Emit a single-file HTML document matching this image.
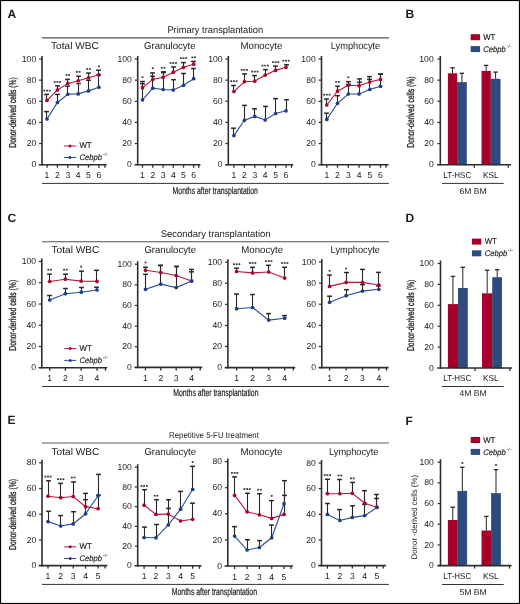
<!DOCTYPE html><html><head><meta charset="utf-8"><style>html,body{margin:0;padding:0;background:#fff;}svg{display:block;filter:blur(0.3px);}text{font-family:"Liberation Sans", sans-serif;fill:#1a1a1a;text-rendering:geometricPrecision;}</style></head><body>
<svg width="520" height="604" viewBox="0 0 520 604">
<rect x="0" y="0" width="520" height="604" fill="#fff"/>
<text x="7.4" y="17.7" font-size="12" font-weight="bold" fill="#000" >A</text>
<text x="405.6" y="17.6" font-size="12" font-weight="bold" fill="#000" >B</text>
<text x="7.4" y="221.8" font-size="12" font-weight="bold" fill="#000" >C</text>
<text x="405.6" y="221.7" font-size="12" font-weight="bold" fill="#000" >D</text>
<text x="7.6" y="424.4" font-size="12" font-weight="bold" fill="#000" >E</text>
<text x="405.6" y="424.6" font-size="12" font-weight="bold" fill="#000" >F</text>
<text x="167.4" y="32.6" font-size="9.7" textLength="95.8" lengthAdjust="spacingAndGlyphs" >Primary transplantation</text>
<line x1="42" y1="37.9" x2="388.9" y2="37.9" stroke="#505050" stroke-width="1.1" />
<text x="160.7" y="236.9" font-size="9.7" textLength="109.9" lengthAdjust="spacingAndGlyphs" >Secondary transplantation</text>
<line x1="42" y1="241.7" x2="388.9" y2="241.7" stroke="#505050" stroke-width="1.1" />
<text x="169.1" y="437.8" font-size="8.5" textLength="89.8" lengthAdjust="spacingAndGlyphs" >Repetitive 5-FU treatment</text>
<line x1="42" y1="443.0" x2="388.9" y2="443.0" stroke="#606060" stroke-width="1.1" />
<text x="51.0" y="49.3" font-size="9.9" textLength="47.8" lengthAdjust="spacingAndGlyphs" >Total WBC</text>
<text x="144.0" y="49.3" font-size="9.9" textLength="51.6" lengthAdjust="spacingAndGlyphs" >Granulocyte</text>
<text x="240.6" y="49.3" font-size="9.9" textLength="41.8" lengthAdjust="spacingAndGlyphs" >Monocyte</text>
<text x="330.8" y="49.3" font-size="9.9" textLength="49.4" lengthAdjust="spacingAndGlyphs" >Lymphocyte</text>
<text x="51.5" y="253.4" font-size="9.9" textLength="47.8" lengthAdjust="spacingAndGlyphs" >Total WBC</text>
<text x="144.4" y="253.4" font-size="9.9" textLength="51.6" lengthAdjust="spacingAndGlyphs" >Granulocyte</text>
<text x="241.3" y="253.4" font-size="9.9" textLength="41.8" lengthAdjust="spacingAndGlyphs" >Monocyte</text>
<text x="330.6" y="253.4" font-size="9.9" textLength="49.4" lengthAdjust="spacingAndGlyphs" >Lymphocyte</text>
<text x="51.5" y="454.5" font-size="9.9" textLength="47.8" lengthAdjust="spacingAndGlyphs" >Total WBC</text>
<text x="144.4" y="454.5" font-size="9.9" textLength="51.6" lengthAdjust="spacingAndGlyphs" >Granulocyte</text>
<text x="240.5" y="454.5" font-size="9.9" textLength="41.8" lengthAdjust="spacingAndGlyphs" >Monocyte</text>
<text x="329.0" y="454.5" font-size="9.9" textLength="49.4" lengthAdjust="spacingAndGlyphs" >Lymphocyte</text>
<line x1="42" y1="183.4" x2="388.9" y2="183.4" stroke="#333" stroke-width="1.0" />
<text x="172.6" y="193.8" font-size="10.0" textLength="85.2" lengthAdjust="spacingAndGlyphs" stroke="#1a1a1a" stroke-width="0.2">Months after transplantation</text>
<line x1="42" y1="386.5" x2="388.9" y2="386.5" stroke="#333" stroke-width="1.0" />
<text x="173.3" y="396.4" font-size="10.0" textLength="85.2" lengthAdjust="spacingAndGlyphs" stroke="#1a1a1a" stroke-width="0.2">Months after transplantation</text>
<line x1="42" y1="584.4" x2="388.9" y2="584.4" stroke="#333" stroke-width="1.0" />
<text x="171.8" y="594.8" font-size="10.0" textLength="85.2" lengthAdjust="spacingAndGlyphs" stroke="#1a1a1a" stroke-width="0.2">Months after transplantation</text>
<text transform="translate(15.9,112.4) rotate(-90)" x="0" y="0" font-size="10" text-anchor="middle" textLength="70.5" lengthAdjust="spacingAndGlyphs" stroke="#1a1a1a" stroke-width="0.3">Donor-derived cells (%)</text>
<text transform="translate(15.9,315.3) rotate(-90)" x="0" y="0" font-size="10" text-anchor="middle" textLength="70.9" lengthAdjust="spacingAndGlyphs" stroke="#1a1a1a" stroke-width="0.3">Donor-derived cells (%)</text>
<text transform="translate(15.9,514.5) rotate(-90)" x="0" y="0" font-size="10" text-anchor="middle" textLength="70.9" lengthAdjust="spacingAndGlyphs" stroke="#1a1a1a" stroke-width="0.3">Donor-derived cells (%)</text>
<text transform="translate(414.0,112.1) rotate(-90)" x="0" y="0" font-size="10" text-anchor="middle" textLength="71.4" lengthAdjust="spacingAndGlyphs" stroke="#1a1a1a" stroke-width="0.3">Donor-derived cells (%)</text>
<text transform="translate(414.0,315.4) rotate(-90)" x="0" y="0" font-size="10" text-anchor="middle" textLength="71.4" lengthAdjust="spacingAndGlyphs" stroke="#1a1a1a" stroke-width="0.3">Donor-derived cells (%)</text>
<text transform="translate(417.2,517.2) rotate(-90)" x="0" y="0" font-size="8.2" text-anchor="middle" textLength="84.5" lengthAdjust="spacingAndGlyphs">Donor -derived cells (%)</text>
<line x1="42" y1="56" x2="42" y2="165.5" stroke="#2e2e2e" stroke-width="1.6" />
<line x1="39.1" y1="59.0" x2="42" y2="59.0" stroke="#2e2e2e" stroke-width="1.2" />
<text x="36.2" y="61.6" font-size="8.6" text-anchor="end" >100</text>
<line x1="39.1" y1="80.14" x2="42" y2="80.14" stroke="#2e2e2e" stroke-width="1.2" />
<text x="36.2" y="82.74" font-size="8.6" text-anchor="end" >80</text>
<line x1="39.1" y1="101.28" x2="42" y2="101.28" stroke="#2e2e2e" stroke-width="1.2" />
<text x="36.2" y="103.88" font-size="8.6" text-anchor="end" >60</text>
<line x1="39.1" y1="122.41999999999999" x2="42" y2="122.41999999999999" stroke="#2e2e2e" stroke-width="1.2" />
<text x="36.2" y="125.01999999999998" font-size="8.6" text-anchor="end" >40</text>
<line x1="39.1" y1="143.56" x2="42" y2="143.56" stroke="#2e2e2e" stroke-width="1.2" />
<text x="36.2" y="146.16" font-size="8.6" text-anchor="end" >20</text>
<line x1="38.8" y1="164.7" x2="106.7" y2="164.7" stroke="#2e2e2e" stroke-width="1.6" />
<line x1="47" y1="164.7" x2="47" y2="167.7" stroke="#2e2e2e" stroke-width="1.3" />
<text x="47" y="178.29999999999998" font-size="8.6" text-anchor="middle" >1</text>
<line x1="57.4" y1="164.7" x2="57.4" y2="167.7" stroke="#2e2e2e" stroke-width="1.3" />
<text x="57.4" y="178.29999999999998" font-size="8.6" text-anchor="middle" >2</text>
<line x1="67.8" y1="164.7" x2="67.8" y2="167.7" stroke="#2e2e2e" stroke-width="1.3" />
<text x="67.8" y="178.29999999999998" font-size="8.6" text-anchor="middle" >3</text>
<line x1="78.2" y1="164.7" x2="78.2" y2="167.7" stroke="#2e2e2e" stroke-width="1.3" />
<text x="78.2" y="178.29999999999998" font-size="8.6" text-anchor="middle" >4</text>
<line x1="88.5" y1="164.7" x2="88.5" y2="167.7" stroke="#2e2e2e" stroke-width="1.3" />
<text x="88.5" y="178.29999999999998" font-size="8.6" text-anchor="middle" >5</text>
<line x1="98.9" y1="164.7" x2="98.9" y2="167.7" stroke="#2e2e2e" stroke-width="1.3" />
<text x="98.9" y="178.29999999999998" font-size="8.6" text-anchor="middle" >6</text>
<line x1="104.9" y1="164.7" x2="104.9" y2="167.7" stroke="#2e2e2e" stroke-width="1.3" />
<text x="36.2" y="167.29999999999998" font-size="8.6" text-anchor="end" >0</text>
<line x1="46.5" y1="119" x2="46.5" y2="111.6" stroke="#262626" stroke-width="1.1" />
<line x1="44.1" y1="111.6" x2="48.9" y2="111.6" stroke="#262626" stroke-width="1.5" />
<line x1="57.5" y1="102.5" x2="57.5" y2="94.4" stroke="#262626" stroke-width="1.1" />
<line x1="55.1" y1="94.4" x2="59.9" y2="94.4" stroke="#262626" stroke-width="1.5" />
<line x1="67.5" y1="94.25" x2="67.5" y2="86.25" stroke="#262626" stroke-width="1.1" />
<line x1="65.1" y1="86.25" x2="69.9" y2="86.25" stroke="#262626" stroke-width="1.5" />
<line x1="78.5" y1="93.9" x2="78.5" y2="83.5" stroke="#262626" stroke-width="1.1" />
<line x1="76.1" y1="83.5" x2="80.9" y2="83.5" stroke="#262626" stroke-width="1.5" />
<line x1="88.5" y1="90.9" x2="88.5" y2="80.25" stroke="#262626" stroke-width="1.1" />
<line x1="86.1" y1="80.25" x2="90.9" y2="80.25" stroke="#262626" stroke-width="1.5" />
<line x1="98.5" y1="87.25" x2="98.5" y2="75" stroke="#262626" stroke-width="1.1" />
<line x1="96.1" y1="75" x2="100.9" y2="75" stroke="#262626" stroke-width="1.5" />
<line x1="46.5" y1="100.4" x2="46.5" y2="94.4" stroke="#262626" stroke-width="1.1" />
<line x1="44.1" y1="94.4" x2="48.9" y2="94.4" stroke="#262626" stroke-width="1.5" />
<line x1="57.5" y1="90" x2="57.5" y2="85.9" stroke="#262626" stroke-width="1.1" />
<line x1="55.1" y1="85.9" x2="59.9" y2="85.9" stroke="#262626" stroke-width="1.5" />
<line x1="67.5" y1="83.4" x2="67.5" y2="79.4" stroke="#262626" stroke-width="1.1" />
<line x1="65.1" y1="79.4" x2="69.9" y2="79.4" stroke="#262626" stroke-width="1.5" />
<line x1="78.5" y1="80.75" x2="78.5" y2="76.25" stroke="#262626" stroke-width="1.1" />
<line x1="76.1" y1="76.25" x2="80.9" y2="76.25" stroke="#262626" stroke-width="1.5" />
<line x1="88.5" y1="77.75" x2="88.5" y2="73.1" stroke="#262626" stroke-width="1.1" />
<line x1="86.1" y1="73.1" x2="90.9" y2="73.1" stroke="#262626" stroke-width="1.5" />
<line x1="98.5" y1="74.75" x2="98.5" y2="70.25" stroke="#262626" stroke-width="1.1" />
<line x1="96.1" y1="70.25" x2="100.9" y2="70.25" stroke="#262626" stroke-width="1.5" />
<path d="M47,100.4 L57.4,90 L67.8,83.4 L78.2,80.75 L88.5,77.75 L98.9,74.75" fill="none" stroke="#bc163e" stroke-width="1.12"/>
<circle cx="47" cy="100.4" r="1.85" fill="#a8062e"/>
<circle cx="57.4" cy="90" r="1.85" fill="#a8062e"/>
<circle cx="67.8" cy="83.4" r="1.85" fill="#a8062e"/>
<circle cx="78.2" cy="80.75" r="1.85" fill="#a8062e"/>
<circle cx="88.5" cy="77.75" r="1.85" fill="#a8062e"/>
<circle cx="98.9" cy="74.75" r="1.85" fill="#a8062e"/>
<path d="M47,119 L57.4,102.5 L67.8,94.25 L78.2,93.9 L88.5,90.9 L98.9,87.25" fill="none" stroke="#2a4e96" stroke-width="1.12"/>
<circle cx="47" cy="119" r="1.85" fill="#1e3f82"/>
<circle cx="57.4" cy="102.5" r="1.85" fill="#1e3f82"/>
<circle cx="67.8" cy="94.25" r="1.85" fill="#1e3f82"/>
<circle cx="78.2" cy="93.9" r="1.85" fill="#1e3f82"/>
<circle cx="88.5" cy="90.9" r="1.85" fill="#1e3f82"/>
<circle cx="98.9" cy="87.25" r="1.85" fill="#1e3f82"/>
<rect x="43.38" y="89.75" width="1.85" height="1.7" fill="#383838"/>
<rect x="46.08" y="89.75" width="1.85" height="1.7" fill="#383838"/>
<rect x="48.78" y="89.75" width="1.85" height="1.7" fill="#383838"/>
<rect x="53.78" y="81.05" width="1.85" height="1.7" fill="#383838"/>
<rect x="56.48" y="81.05" width="1.85" height="1.7" fill="#383838"/>
<rect x="59.18" y="81.05" width="1.85" height="1.7" fill="#383838"/>
<rect x="65.53" y="74.15" width="1.85" height="1.7" fill="#383838"/>
<rect x="68.23" y="74.15" width="1.85" height="1.7" fill="#383838"/>
<rect x="75.93" y="71.05" width="1.85" height="1.7" fill="#383838"/>
<rect x="78.63" y="71.05" width="1.85" height="1.7" fill="#383838"/>
<rect x="86.23" y="68.15" width="1.85" height="1.7" fill="#383838"/>
<rect x="88.93" y="68.15" width="1.85" height="1.7" fill="#383838"/>
<rect x="97.98" y="65.40" width="1.85" height="1.7" fill="#383838"/>
<line x1="137.7" y1="56" x2="137.7" y2="165.5" stroke="#2e2e2e" stroke-width="1.6" />
<line x1="134.79999999999998" y1="59.0" x2="137.7" y2="59.0" stroke="#2e2e2e" stroke-width="1.2" />
<text x="131.89999999999998" y="61.6" font-size="8.6" text-anchor="end" >100</text>
<line x1="134.79999999999998" y1="80.14" x2="137.7" y2="80.14" stroke="#2e2e2e" stroke-width="1.2" />
<text x="131.89999999999998" y="82.74" font-size="8.6" text-anchor="end" >80</text>
<line x1="134.79999999999998" y1="101.28" x2="137.7" y2="101.28" stroke="#2e2e2e" stroke-width="1.2" />
<text x="131.89999999999998" y="103.88" font-size="8.6" text-anchor="end" >60</text>
<line x1="134.79999999999998" y1="122.41999999999999" x2="137.7" y2="122.41999999999999" stroke="#2e2e2e" stroke-width="1.2" />
<text x="131.89999999999998" y="125.01999999999998" font-size="8.6" text-anchor="end" >40</text>
<line x1="134.79999999999998" y1="143.56" x2="137.7" y2="143.56" stroke="#2e2e2e" stroke-width="1.2" />
<text x="131.89999999999998" y="146.16" font-size="8.6" text-anchor="end" >20</text>
<line x1="134.5" y1="164.7" x2="200.5" y2="164.7" stroke="#2e2e2e" stroke-width="1.6" />
<line x1="142.5" y1="164.7" x2="142.5" y2="167.7" stroke="#2e2e2e" stroke-width="1.3" />
<text x="142.5" y="178.29999999999998" font-size="8.6" text-anchor="middle" >1</text>
<line x1="152.8" y1="164.7" x2="152.8" y2="167.7" stroke="#2e2e2e" stroke-width="1.3" />
<text x="152.8" y="178.29999999999998" font-size="8.6" text-anchor="middle" >2</text>
<line x1="163.1" y1="164.7" x2="163.1" y2="167.7" stroke="#2e2e2e" stroke-width="1.3" />
<text x="163.1" y="178.29999999999998" font-size="8.6" text-anchor="middle" >3</text>
<line x1="173.3" y1="164.7" x2="173.3" y2="167.7" stroke="#2e2e2e" stroke-width="1.3" />
<text x="173.3" y="178.29999999999998" font-size="8.6" text-anchor="middle" >4</text>
<line x1="183.5" y1="164.7" x2="183.5" y2="167.7" stroke="#2e2e2e" stroke-width="1.3" />
<text x="183.5" y="178.29999999999998" font-size="8.6" text-anchor="middle" >5</text>
<line x1="193.7" y1="164.7" x2="193.7" y2="167.7" stroke="#2e2e2e" stroke-width="1.3" />
<text x="193.7" y="178.29999999999998" font-size="8.6" text-anchor="middle" >6</text>
<line x1="198.8" y1="164.7" x2="198.8" y2="167.7" stroke="#2e2e2e" stroke-width="1.3" />
<text x="131.89999999999998" y="167.29999999999998" font-size="8.6" text-anchor="end" >0</text>
<line x1="142.5" y1="99.8" x2="142.5" y2="83.7" stroke="#262626" stroke-width="1.1" />
<line x1="140.1" y1="83.7" x2="144.9" y2="83.7" stroke="#262626" stroke-width="1.5" />
<line x1="152.5" y1="88.2" x2="152.5" y2="76.3" stroke="#262626" stroke-width="1.1" />
<line x1="150.1" y1="76.3" x2="154.9" y2="76.3" stroke="#262626" stroke-width="1.5" />
<line x1="163.5" y1="89.5" x2="163.5" y2="72.6" stroke="#262626" stroke-width="1.1" />
<line x1="161.1" y1="72.6" x2="165.9" y2="72.6" stroke="#262626" stroke-width="1.5" />
<line x1="173.5" y1="90" x2="173.5" y2="79.7" stroke="#262626" stroke-width="1.1" />
<line x1="171.1" y1="79.7" x2="175.9" y2="79.7" stroke="#262626" stroke-width="1.5" />
<line x1="183.5" y1="85.3" x2="183.5" y2="73.5" stroke="#262626" stroke-width="1.1" />
<line x1="181.1" y1="73.5" x2="185.9" y2="73.5" stroke="#262626" stroke-width="1.5" />
<line x1="193.5" y1="78.7" x2="193.5" y2="68.5" stroke="#262626" stroke-width="1.1" />
<line x1="191.1" y1="68.5" x2="195.9" y2="68.5" stroke="#262626" stroke-width="1.5" />
<line x1="142.5" y1="87.7" x2="142.5" y2="81.5" stroke="#262626" stroke-width="1.1" />
<line x1="140.1" y1="81.5" x2="144.9" y2="81.5" stroke="#262626" stroke-width="1.5" />
<line x1="152.5" y1="79.4" x2="152.5" y2="72.9" stroke="#262626" stroke-width="1.1" />
<line x1="150.1" y1="72.9" x2="154.9" y2="72.9" stroke="#262626" stroke-width="1.5" />
<line x1="163.5" y1="77.3" x2="163.5" y2="71.8" stroke="#262626" stroke-width="1.1" />
<line x1="161.1" y1="71.8" x2="165.9" y2="71.8" stroke="#262626" stroke-width="1.5" />
<line x1="173.5" y1="72.2" x2="173.5" y2="67.0" stroke="#262626" stroke-width="1.1" />
<line x1="171.1" y1="67.0" x2="175.9" y2="67.0" stroke="#262626" stroke-width="1.5" />
<line x1="183.5" y1="67.3" x2="183.5" y2="62.6" stroke="#262626" stroke-width="1.1" />
<line x1="181.1" y1="62.6" x2="185.9" y2="62.6" stroke="#262626" stroke-width="1.5" />
<line x1="193.5" y1="64.2" x2="193.5" y2="61.4" stroke="#262626" stroke-width="1.1" />
<line x1="191.1" y1="61.4" x2="195.9" y2="61.4" stroke="#262626" stroke-width="1.5" />
<path d="M142.5,87.7 L152.8,79.4 L163.1,77.3 L173.3,72.2 L183.5,67.3 L193.7,64.2" fill="none" stroke="#bc163e" stroke-width="1.12"/>
<circle cx="142.5" cy="87.7" r="1.85" fill="#a8062e"/>
<circle cx="152.8" cy="79.4" r="1.85" fill="#a8062e"/>
<circle cx="163.1" cy="77.3" r="1.85" fill="#a8062e"/>
<circle cx="173.3" cy="72.2" r="1.85" fill="#a8062e"/>
<circle cx="183.5" cy="67.3" r="1.85" fill="#a8062e"/>
<circle cx="193.7" cy="64.2" r="1.85" fill="#a8062e"/>
<path d="M142.5,99.8 L152.8,88.2 L163.1,89.5 L173.3,90 L183.5,85.3 L193.7,78.7" fill="none" stroke="#2a4e96" stroke-width="1.12"/>
<circle cx="142.5" cy="99.8" r="1.85" fill="#1e3f82"/>
<circle cx="152.8" cy="88.2" r="1.85" fill="#1e3f82"/>
<circle cx="163.1" cy="89.5" r="1.85" fill="#1e3f82"/>
<circle cx="173.3" cy="90" r="1.85" fill="#1e3f82"/>
<circle cx="183.5" cy="85.3" r="1.85" fill="#1e3f82"/>
<circle cx="193.7" cy="78.7" r="1.85" fill="#1e3f82"/>
<rect x="141.58" y="76.35" width="1.85" height="1.7" fill="#383838"/>
<rect x="151.88" y="67.35" width="1.85" height="1.7" fill="#383838"/>
<rect x="160.83" y="66.95" width="1.85" height="1.7" fill="#383838"/>
<rect x="163.53" y="66.95" width="1.85" height="1.7" fill="#383838"/>
<rect x="169.68" y="62.15" width="1.85" height="1.7" fill="#383838"/>
<rect x="172.38" y="62.15" width="1.85" height="1.7" fill="#383838"/>
<rect x="175.08" y="62.15" width="1.85" height="1.7" fill="#383838"/>
<rect x="179.88" y="57.25" width="1.85" height="1.7" fill="#383838"/>
<rect x="182.58" y="57.25" width="1.85" height="1.7" fill="#383838"/>
<rect x="185.28" y="57.25" width="1.85" height="1.7" fill="#383838"/>
<rect x="191.43" y="56.45" width="1.85" height="1.7" fill="#383838"/>
<rect x="194.13" y="56.45" width="1.85" height="1.7" fill="#383838"/>
<line x1="228.3" y1="56" x2="228.3" y2="165.5" stroke="#2e2e2e" stroke-width="1.6" />
<line x1="225.4" y1="59.0" x2="228.3" y2="59.0" stroke="#2e2e2e" stroke-width="1.2" />
<text x="222.5" y="61.6" font-size="8.6" text-anchor="end" >100</text>
<line x1="225.4" y1="80.14" x2="228.3" y2="80.14" stroke="#2e2e2e" stroke-width="1.2" />
<text x="222.5" y="82.74" font-size="8.6" text-anchor="end" >80</text>
<line x1="225.4" y1="101.28" x2="228.3" y2="101.28" stroke="#2e2e2e" stroke-width="1.2" />
<text x="222.5" y="103.88" font-size="8.6" text-anchor="end" >60</text>
<line x1="225.4" y1="122.41999999999999" x2="228.3" y2="122.41999999999999" stroke="#2e2e2e" stroke-width="1.2" />
<text x="222.5" y="125.01999999999998" font-size="8.6" text-anchor="end" >40</text>
<line x1="225.4" y1="143.56" x2="228.3" y2="143.56" stroke="#2e2e2e" stroke-width="1.2" />
<text x="222.5" y="146.16" font-size="8.6" text-anchor="end" >20</text>
<line x1="225.10000000000002" y1="164.7" x2="293.2" y2="164.7" stroke="#2e2e2e" stroke-width="1.6" />
<line x1="233.9" y1="164.7" x2="233.9" y2="167.7" stroke="#2e2e2e" stroke-width="1.3" />
<text x="233.9" y="178.29999999999998" font-size="8.6" text-anchor="middle" >1</text>
<line x1="244.4" y1="164.7" x2="244.4" y2="167.7" stroke="#2e2e2e" stroke-width="1.3" />
<text x="244.4" y="178.29999999999998" font-size="8.6" text-anchor="middle" >2</text>
<line x1="254.8" y1="164.7" x2="254.8" y2="167.7" stroke="#2e2e2e" stroke-width="1.3" />
<text x="254.8" y="178.29999999999998" font-size="8.6" text-anchor="middle" >3</text>
<line x1="265.2" y1="164.7" x2="265.2" y2="167.7" stroke="#2e2e2e" stroke-width="1.3" />
<text x="265.2" y="178.29999999999998" font-size="8.6" text-anchor="middle" >4</text>
<line x1="275.6" y1="164.7" x2="275.6" y2="167.7" stroke="#2e2e2e" stroke-width="1.3" />
<text x="275.6" y="178.29999999999998" font-size="8.6" text-anchor="middle" >5</text>
<line x1="286" y1="164.7" x2="286" y2="167.7" stroke="#2e2e2e" stroke-width="1.3" />
<text x="286" y="178.29999999999998" font-size="8.6" text-anchor="middle" >6</text>
<line x1="291.5" y1="164.7" x2="291.5" y2="167.7" stroke="#2e2e2e" stroke-width="1.3" />
<text x="222.5" y="167.29999999999998" font-size="8.6" text-anchor="end" >0</text>
<line x1="233.5" y1="135.6" x2="233.5" y2="128.2" stroke="#262626" stroke-width="1.1" />
<line x1="231.1" y1="128.2" x2="235.9" y2="128.2" stroke="#262626" stroke-width="1.5" />
<line x1="244.5" y1="120.3" x2="244.5" y2="105.4" stroke="#262626" stroke-width="1.1" />
<line x1="242.1" y1="105.4" x2="246.9" y2="105.4" stroke="#262626" stroke-width="1.5" />
<line x1="254.5" y1="116.4" x2="254.5" y2="108.8" stroke="#262626" stroke-width="1.1" />
<line x1="252.1" y1="108.8" x2="256.9" y2="108.8" stroke="#262626" stroke-width="1.5" />
<line x1="265.5" y1="120" x2="265.5" y2="106.4" stroke="#262626" stroke-width="1.1" />
<line x1="263.1" y1="106.4" x2="267.9" y2="106.4" stroke="#262626" stroke-width="1.5" />
<line x1="275.5" y1="113.5" x2="275.5" y2="98.6" stroke="#262626" stroke-width="1.1" />
<line x1="273.1" y1="98.6" x2="277.9" y2="98.6" stroke="#262626" stroke-width="1.5" />
<line x1="286.5" y1="110.8" x2="286.5" y2="99.7" stroke="#262626" stroke-width="1.1" />
<line x1="284.1" y1="99.7" x2="288.9" y2="99.7" stroke="#262626" stroke-width="1.5" />
<line x1="233.5" y1="91.5" x2="233.5" y2="85.5" stroke="#262626" stroke-width="1.1" />
<line x1="231.1" y1="85.5" x2="235.9" y2="85.5" stroke="#262626" stroke-width="1.5" />
<line x1="244.5" y1="81.7" x2="244.5" y2="73.9" stroke="#262626" stroke-width="1.1" />
<line x1="242.1" y1="73.9" x2="246.9" y2="73.9" stroke="#262626" stroke-width="1.5" />
<line x1="254.5" y1="81.2" x2="254.5" y2="75.6" stroke="#262626" stroke-width="1.1" />
<line x1="252.1" y1="75.6" x2="256.9" y2="75.6" stroke="#262626" stroke-width="1.5" />
<line x1="265.5" y1="75.1" x2="265.5" y2="69.6" stroke="#262626" stroke-width="1.1" />
<line x1="263.1" y1="69.6" x2="267.9" y2="69.6" stroke="#262626" stroke-width="1.5" />
<line x1="275.5" y1="70.4" x2="275.5" y2="66.1" stroke="#262626" stroke-width="1.1" />
<line x1="273.1" y1="66.1" x2="277.9" y2="66.1" stroke="#262626" stroke-width="1.5" />
<line x1="286.5" y1="67.3" x2="286.5" y2="64.7" stroke="#262626" stroke-width="1.1" />
<line x1="284.1" y1="64.7" x2="288.9" y2="64.7" stroke="#262626" stroke-width="1.5" />
<path d="M233.9,91.5 L244.4,81.7 L254.8,81.2 L265.2,75.1 L275.6,70.4 L286,67.3" fill="none" stroke="#bc163e" stroke-width="1.12"/>
<circle cx="233.9" cy="91.5" r="1.85" fill="#a8062e"/>
<circle cx="244.4" cy="81.7" r="1.85" fill="#a8062e"/>
<circle cx="254.8" cy="81.2" r="1.85" fill="#a8062e"/>
<circle cx="265.2" cy="75.1" r="1.85" fill="#a8062e"/>
<circle cx="275.6" cy="70.4" r="1.85" fill="#a8062e"/>
<circle cx="286" cy="67.3" r="1.85" fill="#a8062e"/>
<path d="M233.9,135.6 L244.4,120.3 L254.8,116.4 L265.2,120 L275.6,113.5 L286,110.8" fill="none" stroke="#2a4e96" stroke-width="1.12"/>
<circle cx="233.9" cy="135.6" r="1.85" fill="#1e3f82"/>
<circle cx="244.4" cy="120.3" r="1.85" fill="#1e3f82"/>
<circle cx="254.8" cy="116.4" r="1.85" fill="#1e3f82"/>
<circle cx="265.2" cy="120" r="1.85" fill="#1e3f82"/>
<circle cx="275.6" cy="113.5" r="1.85" fill="#1e3f82"/>
<circle cx="286" cy="110.8" r="1.85" fill="#1e3f82"/>
<rect x="230.28" y="80.35" width="1.85" height="1.7" fill="#383838"/>
<rect x="232.98" y="80.35" width="1.85" height="1.7" fill="#383838"/>
<rect x="235.68" y="80.35" width="1.85" height="1.7" fill="#383838"/>
<rect x="240.78" y="69.05" width="1.85" height="1.7" fill="#383838"/>
<rect x="243.48" y="69.05" width="1.85" height="1.7" fill="#383838"/>
<rect x="246.18" y="69.05" width="1.85" height="1.7" fill="#383838"/>
<rect x="251.18" y="70.75" width="1.85" height="1.7" fill="#383838"/>
<rect x="253.88" y="70.75" width="1.85" height="1.7" fill="#383838"/>
<rect x="256.58" y="70.75" width="1.85" height="1.7" fill="#383838"/>
<rect x="261.58" y="64.75" width="1.85" height="1.7" fill="#383838"/>
<rect x="264.28" y="64.75" width="1.85" height="1.7" fill="#383838"/>
<rect x="266.98" y="64.75" width="1.85" height="1.7" fill="#383838"/>
<rect x="271.98" y="61.25" width="1.85" height="1.7" fill="#383838"/>
<rect x="274.68" y="61.25" width="1.85" height="1.7" fill="#383838"/>
<rect x="277.38" y="61.25" width="1.85" height="1.7" fill="#383838"/>
<rect x="282.38" y="59.85" width="1.85" height="1.7" fill="#383838"/>
<rect x="285.08" y="59.85" width="1.85" height="1.7" fill="#383838"/>
<rect x="287.78" y="59.85" width="1.85" height="1.7" fill="#383838"/>
<line x1="321.5" y1="56" x2="321.5" y2="165.5" stroke="#2e2e2e" stroke-width="1.6" />
<line x1="318.6" y1="59.0" x2="321.5" y2="59.0" stroke="#2e2e2e" stroke-width="1.2" />
<text x="315.7" y="61.6" font-size="8.6" text-anchor="end" >100</text>
<line x1="318.6" y1="80.14" x2="321.5" y2="80.14" stroke="#2e2e2e" stroke-width="1.2" />
<text x="315.7" y="82.74" font-size="8.6" text-anchor="end" >80</text>
<line x1="318.6" y1="101.28" x2="321.5" y2="101.28" stroke="#2e2e2e" stroke-width="1.2" />
<text x="315.7" y="103.88" font-size="8.6" text-anchor="end" >60</text>
<line x1="318.6" y1="122.41999999999999" x2="321.5" y2="122.41999999999999" stroke="#2e2e2e" stroke-width="1.2" />
<text x="315.7" y="125.01999999999998" font-size="8.6" text-anchor="end" >40</text>
<line x1="318.6" y1="143.56" x2="321.5" y2="143.56" stroke="#2e2e2e" stroke-width="1.2" />
<text x="315.7" y="146.16" font-size="8.6" text-anchor="end" >20</text>
<line x1="318.3" y1="164.7" x2="388.6" y2="164.7" stroke="#2e2e2e" stroke-width="1.6" />
<line x1="326.8" y1="164.7" x2="326.8" y2="167.7" stroke="#2e2e2e" stroke-width="1.3" />
<text x="326.8" y="178.29999999999998" font-size="8.6" text-anchor="middle" >1</text>
<line x1="337.5" y1="164.7" x2="337.5" y2="167.7" stroke="#2e2e2e" stroke-width="1.3" />
<text x="337.5" y="178.29999999999998" font-size="8.6" text-anchor="middle" >2</text>
<line x1="348.3" y1="164.7" x2="348.3" y2="167.7" stroke="#2e2e2e" stroke-width="1.3" />
<text x="348.3" y="178.29999999999998" font-size="8.6" text-anchor="middle" >3</text>
<line x1="359.1" y1="164.7" x2="359.1" y2="167.7" stroke="#2e2e2e" stroke-width="1.3" />
<text x="359.1" y="178.29999999999998" font-size="8.6" text-anchor="middle" >4</text>
<line x1="369.8" y1="164.7" x2="369.8" y2="167.7" stroke="#2e2e2e" stroke-width="1.3" />
<text x="369.8" y="178.29999999999998" font-size="8.6" text-anchor="middle" >5</text>
<line x1="380.5" y1="164.7" x2="380.5" y2="167.7" stroke="#2e2e2e" stroke-width="1.3" />
<text x="380.5" y="178.29999999999998" font-size="8.6" text-anchor="middle" >6</text>
<line x1="386" y1="164.7" x2="386" y2="167.7" stroke="#2e2e2e" stroke-width="1.3" />
<text x="315.7" y="167.29999999999998" font-size="8.6" text-anchor="end" >0</text>
<line x1="326.5" y1="119.4" x2="326.5" y2="113.2" stroke="#262626" stroke-width="1.1" />
<line x1="324.1" y1="113.2" x2="328.9" y2="113.2" stroke="#262626" stroke-width="1.5" />
<line x1="337.5" y1="103.3" x2="337.5" y2="95.7" stroke="#262626" stroke-width="1.1" />
<line x1="335.1" y1="95.7" x2="339.9" y2="95.7" stroke="#262626" stroke-width="1.5" />
<line x1="348.5" y1="94" x2="348.5" y2="84.4" stroke="#262626" stroke-width="1.1" />
<line x1="346.1" y1="84.4" x2="350.9" y2="84.4" stroke="#262626" stroke-width="1.5" />
<line x1="359.5" y1="94" x2="359.5" y2="82.2" stroke="#262626" stroke-width="1.1" />
<line x1="357.1" y1="82.2" x2="361.9" y2="82.2" stroke="#262626" stroke-width="1.5" />
<line x1="369.5" y1="89.5" x2="369.5" y2="79.4" stroke="#262626" stroke-width="1.1" />
<line x1="367.1" y1="79.4" x2="371.9" y2="79.4" stroke="#262626" stroke-width="1.5" />
<line x1="380.5" y1="86.3" x2="380.5" y2="74.0" stroke="#262626" stroke-width="1.1" />
<line x1="378.1" y1="74.0" x2="382.9" y2="74.0" stroke="#262626" stroke-width="1.5" />
<line x1="326.5" y1="105" x2="326.5" y2="99" stroke="#262626" stroke-width="1.1" />
<line x1="324.1" y1="99" x2="328.9" y2="99" stroke="#262626" stroke-width="1.5" />
<line x1="337.5" y1="91.2" x2="337.5" y2="86.3" stroke="#262626" stroke-width="1.1" />
<line x1="335.1" y1="86.3" x2="339.9" y2="86.3" stroke="#262626" stroke-width="1.5" />
<line x1="348.5" y1="85.3" x2="348.5" y2="81.7" stroke="#262626" stroke-width="1.1" />
<line x1="346.1" y1="81.7" x2="350.9" y2="81.7" stroke="#262626" stroke-width="1.5" />
<line x1="359.5" y1="85.7" x2="359.5" y2="78.9" stroke="#262626" stroke-width="1.1" />
<line x1="357.1" y1="78.9" x2="361.9" y2="78.9" stroke="#262626" stroke-width="1.5" />
<line x1="369.5" y1="82" x2="369.5" y2="76.6" stroke="#262626" stroke-width="1.1" />
<line x1="367.1" y1="76.6" x2="371.9" y2="76.6" stroke="#262626" stroke-width="1.5" />
<line x1="380.5" y1="79.4" x2="380.5" y2="74.3" stroke="#262626" stroke-width="1.1" />
<line x1="378.1" y1="74.3" x2="382.9" y2="74.3" stroke="#262626" stroke-width="1.5" />
<path d="M326.8,105 L337.5,91.2 L348.3,85.3 L359.1,85.7 L369.8,82 L380.5,79.4" fill="none" stroke="#bc163e" stroke-width="1.12"/>
<circle cx="326.8" cy="105" r="1.85" fill="#a8062e"/>
<circle cx="337.5" cy="91.2" r="1.85" fill="#a8062e"/>
<circle cx="348.3" cy="85.3" r="1.85" fill="#a8062e"/>
<circle cx="359.1" cy="85.7" r="1.85" fill="#a8062e"/>
<circle cx="369.8" cy="82" r="1.85" fill="#a8062e"/>
<circle cx="380.5" cy="79.4" r="1.85" fill="#a8062e"/>
<path d="M326.8,119.4 L337.5,103.3 L348.3,94 L359.1,94 L369.8,89.5 L380.5,86.3" fill="none" stroke="#2a4e96" stroke-width="1.12"/>
<circle cx="326.8" cy="119.4" r="1.85" fill="#1e3f82"/>
<circle cx="337.5" cy="103.3" r="1.85" fill="#1e3f82"/>
<circle cx="348.3" cy="94" r="1.85" fill="#1e3f82"/>
<circle cx="359.1" cy="94" r="1.85" fill="#1e3f82"/>
<circle cx="369.8" cy="89.5" r="1.85" fill="#1e3f82"/>
<circle cx="380.5" cy="86.3" r="1.85" fill="#1e3f82"/>
<rect x="323.18" y="93.85" width="1.85" height="1.7" fill="#383838"/>
<rect x="325.88" y="93.85" width="1.85" height="1.7" fill="#383838"/>
<rect x="328.58" y="93.85" width="1.85" height="1.7" fill="#383838"/>
<rect x="335.23" y="81.05" width="1.85" height="1.7" fill="#383838"/>
<rect x="337.93" y="81.05" width="1.85" height="1.7" fill="#383838"/>
<rect x="347.38" y="76.45" width="1.85" height="1.7" fill="#383838"/>
<line x1="63.8" y1="146.0" x2="76.2" y2="146.0" stroke="#bc163e" stroke-width="1.0" />
<circle cx="70.0" cy="146.0" r="1.5" fill="#a8062e"/>
<text x="79.4" y="148.39999999999998" font-size="8.2" textLength="12.2" lengthAdjust="spacingAndGlyphs" stroke="#1a1a1a" stroke-width="0.15">WT</text>
<line x1="63.8" y1="157.5" x2="76.2" y2="157.5" stroke="#2a4e96" stroke-width="1.0" />
<circle cx="70.0" cy="157.5" r="1.5" fill="#1e3f82"/>
<text x="79.4" y="159.9" font-size="8.2" textLength="22.5" lengthAdjust="spacingAndGlyphs" font-style="italic" stroke="#1a1a1a" stroke-width="0.15">Cebpb</text>
<text x="102.80000000000001" y="155.9" font-size="4.8" textLength="5.0" lengthAdjust="spacingAndGlyphs" >-/-</text>
<line x1="41.8" y1="258.5" x2="41.8" y2="368.6" stroke="#2e2e2e" stroke-width="1.6" />
<line x1="38.9" y1="261.5" x2="41.8" y2="261.5" stroke="#2e2e2e" stroke-width="1.2" />
<text x="36.0" y="264.1" font-size="8.6" text-anchor="end" >100</text>
<line x1="38.9" y1="282.76" x2="41.8" y2="282.76" stroke="#2e2e2e" stroke-width="1.2" />
<text x="36.0" y="285.36" font-size="8.6" text-anchor="end" >80</text>
<line x1="38.9" y1="304.02" x2="41.8" y2="304.02" stroke="#2e2e2e" stroke-width="1.2" />
<text x="36.0" y="306.62" font-size="8.6" text-anchor="end" >60</text>
<line x1="38.9" y1="325.28" x2="41.8" y2="325.28" stroke="#2e2e2e" stroke-width="1.2" />
<text x="36.0" y="327.88" font-size="8.6" text-anchor="end" >40</text>
<line x1="38.9" y1="346.54" x2="41.8" y2="346.54" stroke="#2e2e2e" stroke-width="1.2" />
<text x="36.0" y="349.14000000000004" font-size="8.6" text-anchor="end" >20</text>
<line x1="38.599999999999994" y1="367.8" x2="107.3" y2="367.8" stroke="#2e2e2e" stroke-width="1.6" />
<line x1="49.7" y1="367.8" x2="49.7" y2="370.8" stroke="#2e2e2e" stroke-width="1.3" />
<text x="49.7" y="381.40000000000003" font-size="8.6" text-anchor="middle" >1</text>
<line x1="65.4" y1="367.8" x2="65.4" y2="370.8" stroke="#2e2e2e" stroke-width="1.3" />
<text x="65.4" y="381.40000000000003" font-size="8.6" text-anchor="middle" >2</text>
<line x1="81.2" y1="367.8" x2="81.2" y2="370.8" stroke="#2e2e2e" stroke-width="1.3" />
<text x="81.2" y="381.40000000000003" font-size="8.6" text-anchor="middle" >3</text>
<line x1="97" y1="367.8" x2="97" y2="370.8" stroke="#2e2e2e" stroke-width="1.3" />
<text x="97" y="381.40000000000003" font-size="8.6" text-anchor="middle" >4</text>
<line x1="105.5" y1="367.8" x2="105.5" y2="370.8" stroke="#2e2e2e" stroke-width="1.3" />
<text x="36.0" y="370.40000000000003" font-size="8.6" text-anchor="end" >0</text>
<line x1="49.5" y1="300" x2="49.5" y2="295.5" stroke="#262626" stroke-width="1.1" />
<line x1="47.1" y1="295.5" x2="51.9" y2="295.5" stroke="#262626" stroke-width="1.5" />
<line x1="65.5" y1="293.7" x2="65.5" y2="288.5" stroke="#262626" stroke-width="1.1" />
<line x1="63.1" y1="288.5" x2="67.9" y2="288.5" stroke="#262626" stroke-width="1.5" />
<line x1="81.5" y1="292.2" x2="81.5" y2="287.5" stroke="#262626" stroke-width="1.1" />
<line x1="79.1" y1="287.5" x2="83.9" y2="287.5" stroke="#262626" stroke-width="1.5" />
<line x1="96.5" y1="290" x2="96.5" y2="287.2" stroke="#262626" stroke-width="1.1" />
<line x1="94.1" y1="287.2" x2="98.9" y2="287.2" stroke="#262626" stroke-width="1.5" />
<line x1="49.5" y1="281.5" x2="49.5" y2="274.2" stroke="#262626" stroke-width="1.1" />
<line x1="47.1" y1="274.2" x2="51.9" y2="274.2" stroke="#262626" stroke-width="1.5" />
<line x1="65.5" y1="279.2" x2="65.5" y2="274.2" stroke="#262626" stroke-width="1.1" />
<line x1="63.1" y1="274.2" x2="67.9" y2="274.2" stroke="#262626" stroke-width="1.5" />
<line x1="81.5" y1="281.1" x2="81.5" y2="271.2" stroke="#262626" stroke-width="1.1" />
<line x1="79.1" y1="271.2" x2="83.9" y2="271.2" stroke="#262626" stroke-width="1.5" />
<line x1="96.5" y1="281.4" x2="96.5" y2="270.3" stroke="#262626" stroke-width="1.1" />
<line x1="94.1" y1="270.3" x2="98.9" y2="270.3" stroke="#262626" stroke-width="1.5" />
<path d="M49.7,281.5 L65.4,279.2 L81.2,281.1 L97,281.4" fill="none" stroke="#bc163e" stroke-width="1.12"/>
<circle cx="49.7" cy="281.5" r="1.85" fill="#a8062e"/>
<circle cx="65.4" cy="279.2" r="1.85" fill="#a8062e"/>
<circle cx="81.2" cy="281.1" r="1.85" fill="#a8062e"/>
<circle cx="97" cy="281.4" r="1.85" fill="#a8062e"/>
<path d="M49.7,300 L65.4,293.7 L81.2,292.2 L97,290" fill="none" stroke="#2a4e96" stroke-width="1.12"/>
<circle cx="49.7" cy="300" r="1.85" fill="#1e3f82"/>
<circle cx="65.4" cy="293.7" r="1.85" fill="#1e3f82"/>
<circle cx="81.2" cy="292.2" r="1.85" fill="#1e3f82"/>
<circle cx="97" cy="290" r="1.85" fill="#1e3f82"/>
<rect x="47.43" y="268.85" width="1.85" height="1.7" fill="#383838"/>
<rect x="50.13" y="268.85" width="1.85" height="1.7" fill="#383838"/>
<rect x="63.13" y="268.85" width="1.85" height="1.7" fill="#383838"/>
<rect x="65.83" y="268.85" width="1.85" height="1.7" fill="#383838"/>
<rect x="80.28" y="265.75" width="1.85" height="1.7" fill="#383838"/>
<line x1="137.7" y1="261.2" x2="137.7" y2="368.2" stroke="#2e2e2e" stroke-width="1.6" />
<line x1="134.79999999999998" y1="264.2" x2="137.7" y2="264.2" stroke="#2e2e2e" stroke-width="1.2" />
<text x="131.89999999999998" y="266.8" font-size="8.6" text-anchor="end" >100</text>
<line x1="134.79999999999998" y1="284.84" x2="137.7" y2="284.84" stroke="#2e2e2e" stroke-width="1.2" />
<text x="131.89999999999998" y="287.44" font-size="8.6" text-anchor="end" >80</text>
<line x1="134.79999999999998" y1="305.47999999999996" x2="137.7" y2="305.47999999999996" stroke="#2e2e2e" stroke-width="1.2" />
<text x="131.89999999999998" y="308.08" font-size="8.6" text-anchor="end" >60</text>
<line x1="134.79999999999998" y1="326.12" x2="137.7" y2="326.12" stroke="#2e2e2e" stroke-width="1.2" />
<text x="131.89999999999998" y="328.72" font-size="8.6" text-anchor="end" >40</text>
<line x1="134.79999999999998" y1="346.76" x2="137.7" y2="346.76" stroke="#2e2e2e" stroke-width="1.2" />
<text x="131.89999999999998" y="349.36" font-size="8.6" text-anchor="end" >20</text>
<line x1="134.5" y1="367.4" x2="202.2" y2="367.4" stroke="#2e2e2e" stroke-width="1.6" />
<line x1="145.5" y1="367.4" x2="145.5" y2="370.4" stroke="#2e2e2e" stroke-width="1.3" />
<text x="145.5" y="381.0" font-size="8.6" text-anchor="middle" >1</text>
<line x1="160.8" y1="367.4" x2="160.8" y2="370.4" stroke="#2e2e2e" stroke-width="1.3" />
<text x="160.8" y="381.0" font-size="8.6" text-anchor="middle" >2</text>
<line x1="176.2" y1="367.4" x2="176.2" y2="370.4" stroke="#2e2e2e" stroke-width="1.3" />
<text x="176.2" y="381.0" font-size="8.6" text-anchor="middle" >3</text>
<line x1="191.6" y1="367.4" x2="191.6" y2="370.4" stroke="#2e2e2e" stroke-width="1.3" />
<text x="191.6" y="381.0" font-size="8.6" text-anchor="middle" >4</text>
<line x1="200.2" y1="367.4" x2="200.2" y2="370.4" stroke="#2e2e2e" stroke-width="1.3" />
<text x="131.89999999999998" y="370.0" font-size="8.6" text-anchor="end" >0</text>
<line x1="145.5" y1="289.3" x2="145.5" y2="274.3" stroke="#262626" stroke-width="1.1" />
<line x1="143.1" y1="274.3" x2="147.9" y2="274.3" stroke="#262626" stroke-width="1.5" />
<line x1="160.5" y1="284.1" x2="160.5" y2="265.4" stroke="#262626" stroke-width="1.1" />
<line x1="158.1" y1="265.4" x2="162.9" y2="265.4" stroke="#262626" stroke-width="1.5" />
<line x1="176.5" y1="287.6" x2="176.5" y2="266.5" stroke="#262626" stroke-width="1.1" />
<line x1="174.1" y1="266.5" x2="178.9" y2="266.5" stroke="#262626" stroke-width="1.5" />
<line x1="191.5" y1="281" x2="191.5" y2="271.8" stroke="#262626" stroke-width="1.1" />
<line x1="189.1" y1="271.8" x2="193.9" y2="271.8" stroke="#262626" stroke-width="1.5" />
<line x1="145.5" y1="270.3" x2="145.5" y2="267.3" stroke="#262626" stroke-width="1.1" />
<line x1="143.1" y1="267.3" x2="147.9" y2="267.3" stroke="#262626" stroke-width="1.5" />
<line x1="160.5" y1="272.5" x2="160.5" y2="265.4" stroke="#262626" stroke-width="1.1" />
<line x1="158.1" y1="265.4" x2="162.9" y2="265.4" stroke="#262626" stroke-width="1.5" />
<line x1="176.5" y1="275.5" x2="176.5" y2="266.5" stroke="#262626" stroke-width="1.1" />
<line x1="174.1" y1="266.5" x2="178.9" y2="266.5" stroke="#262626" stroke-width="1.5" />
<line x1="191.5" y1="281" x2="191.5" y2="269.4" stroke="#262626" stroke-width="1.1" />
<line x1="189.1" y1="269.4" x2="193.9" y2="269.4" stroke="#262626" stroke-width="1.5" />
<path d="M145.5,270.3 L160.8,272.5 L176.2,275.5 L191.6,281" fill="none" stroke="#bc163e" stroke-width="1.12"/>
<circle cx="145.5" cy="270.3" r="1.85" fill="#a8062e"/>
<circle cx="160.8" cy="272.5" r="1.85" fill="#a8062e"/>
<circle cx="176.2" cy="275.5" r="1.85" fill="#a8062e"/>
<circle cx="191.6" cy="281" r="1.85" fill="#a8062e"/>
<path d="M145.5,289.3 L160.8,284.1 L176.2,287.6 L191.6,281" fill="none" stroke="#2a4e96" stroke-width="1.12"/>
<circle cx="145.5" cy="289.3" r="1.85" fill="#1e3f82"/>
<circle cx="160.8" cy="284.1" r="1.85" fill="#1e3f82"/>
<circle cx="176.2" cy="287.6" r="1.85" fill="#1e3f82"/>
<circle cx="191.6" cy="281" r="1.85" fill="#1e3f82"/>
<rect x="144.58" y="261.65" width="1.85" height="1.7" fill="#383838"/>
<line x1="227.9" y1="259.2" x2="227.9" y2="368.40000000000003" stroke="#2e2e2e" stroke-width="1.6" />
<line x1="225.0" y1="262.2" x2="227.9" y2="262.2" stroke="#2e2e2e" stroke-width="1.2" />
<text x="222.1" y="264.8" font-size="8.6" text-anchor="end" >100</text>
<line x1="225.0" y1="283.28" x2="227.9" y2="283.28" stroke="#2e2e2e" stroke-width="1.2" />
<text x="222.1" y="285.88" font-size="8.6" text-anchor="end" >80</text>
<line x1="225.0" y1="304.36" x2="227.9" y2="304.36" stroke="#2e2e2e" stroke-width="1.2" />
<text x="222.1" y="306.96000000000004" font-size="8.6" text-anchor="end" >60</text>
<line x1="225.0" y1="325.44" x2="227.9" y2="325.44" stroke="#2e2e2e" stroke-width="1.2" />
<text x="222.1" y="328.04" font-size="8.6" text-anchor="end" >40</text>
<line x1="225.0" y1="346.52" x2="227.9" y2="346.52" stroke="#2e2e2e" stroke-width="1.2" />
<text x="222.1" y="349.12" font-size="8.6" text-anchor="end" >20</text>
<line x1="224.70000000000002" y1="367.6" x2="295.2" y2="367.6" stroke="#2e2e2e" stroke-width="1.6" />
<line x1="236.6" y1="367.6" x2="236.6" y2="370.6" stroke="#2e2e2e" stroke-width="1.3" />
<text x="236.6" y="381.20000000000005" font-size="8.6" text-anchor="middle" >1</text>
<line x1="252.6" y1="367.6" x2="252.6" y2="370.6" stroke="#2e2e2e" stroke-width="1.3" />
<text x="252.6" y="381.20000000000005" font-size="8.6" text-anchor="middle" >2</text>
<line x1="268.7" y1="367.6" x2="268.7" y2="370.6" stroke="#2e2e2e" stroke-width="1.3" />
<text x="268.7" y="381.20000000000005" font-size="8.6" text-anchor="middle" >3</text>
<line x1="284.7" y1="367.6" x2="284.7" y2="370.6" stroke="#2e2e2e" stroke-width="1.3" />
<text x="284.7" y="381.20000000000005" font-size="8.6" text-anchor="middle" >4</text>
<line x1="293.3" y1="367.6" x2="293.3" y2="370.6" stroke="#2e2e2e" stroke-width="1.3" />
<text x="222.1" y="370.20000000000005" font-size="8.6" text-anchor="end" >0</text>
<line x1="236.5" y1="308.7" x2="236.5" y2="294" stroke="#262626" stroke-width="1.1" />
<line x1="234.1" y1="294" x2="238.9" y2="294" stroke="#262626" stroke-width="1.5" />
<line x1="252.5" y1="307.5" x2="252.5" y2="294.5" stroke="#262626" stroke-width="1.1" />
<line x1="250.1" y1="294.5" x2="254.9" y2="294.5" stroke="#262626" stroke-width="1.5" />
<line x1="268.5" y1="320.1" x2="268.5" y2="313.6" stroke="#262626" stroke-width="1.1" />
<line x1="266.1" y1="313.6" x2="270.9" y2="313.6" stroke="#262626" stroke-width="1.5" />
<line x1="284.5" y1="318.2" x2="284.5" y2="315.6" stroke="#262626" stroke-width="1.1" />
<line x1="282.1" y1="315.6" x2="286.9" y2="315.6" stroke="#262626" stroke-width="1.5" />
<line x1="236.5" y1="271.5" x2="236.5" y2="268.2" stroke="#262626" stroke-width="1.1" />
<line x1="234.1" y1="268.2" x2="238.9" y2="268.2" stroke="#262626" stroke-width="1.5" />
<line x1="252.5" y1="272.9" x2="252.5" y2="267.3" stroke="#262626" stroke-width="1.1" />
<line x1="250.1" y1="267.3" x2="254.9" y2="267.3" stroke="#262626" stroke-width="1.5" />
<line x1="268.5" y1="272" x2="268.5" y2="265.3" stroke="#262626" stroke-width="1.1" />
<line x1="266.1" y1="265.3" x2="270.9" y2="265.3" stroke="#262626" stroke-width="1.5" />
<line x1="284.5" y1="278.1" x2="284.5" y2="267.3" stroke="#262626" stroke-width="1.1" />
<line x1="282.1" y1="267.3" x2="286.9" y2="267.3" stroke="#262626" stroke-width="1.5" />
<path d="M236.6,271.5 L252.6,272.9 L268.7,272 L284.7,278.1" fill="none" stroke="#bc163e" stroke-width="1.12"/>
<circle cx="236.6" cy="271.5" r="1.85" fill="#a8062e"/>
<circle cx="252.6" cy="272.9" r="1.85" fill="#a8062e"/>
<circle cx="268.7" cy="272" r="1.85" fill="#a8062e"/>
<circle cx="284.7" cy="278.1" r="1.85" fill="#a8062e"/>
<path d="M236.6,308.7 L252.6,307.5 L268.7,320.1 L284.7,318.2" fill="none" stroke="#2a4e96" stroke-width="1.12"/>
<circle cx="236.6" cy="308.7" r="1.85" fill="#1e3f82"/>
<circle cx="252.6" cy="307.5" r="1.85" fill="#1e3f82"/>
<circle cx="268.7" cy="320.1" r="1.85" fill="#1e3f82"/>
<circle cx="284.7" cy="318.2" r="1.85" fill="#1e3f82"/>
<rect x="232.98" y="263.35" width="1.85" height="1.7" fill="#383838"/>
<rect x="235.68" y="263.35" width="1.85" height="1.7" fill="#383838"/>
<rect x="238.38" y="263.35" width="1.85" height="1.7" fill="#383838"/>
<rect x="248.98" y="262.15" width="1.85" height="1.7" fill="#383838"/>
<rect x="251.68" y="262.15" width="1.85" height="1.7" fill="#383838"/>
<rect x="254.38" y="262.15" width="1.85" height="1.7" fill="#383838"/>
<rect x="265.08" y="260.25" width="1.85" height="1.7" fill="#383838"/>
<rect x="267.78" y="260.25" width="1.85" height="1.7" fill="#383838"/>
<rect x="270.48" y="260.25" width="1.85" height="1.7" fill="#383838"/>
<rect x="281.08" y="262.15" width="1.85" height="1.7" fill="#383838"/>
<rect x="283.78" y="262.15" width="1.85" height="1.7" fill="#383838"/>
<rect x="286.48" y="262.15" width="1.85" height="1.7" fill="#383838"/>
<line x1="321.8" y1="259" x2="321.8" y2="368.40000000000003" stroke="#2e2e2e" stroke-width="1.6" />
<line x1="318.90000000000003" y1="262.0" x2="321.8" y2="262.0" stroke="#2e2e2e" stroke-width="1.2" />
<text x="316.0" y="264.6" font-size="8.6" text-anchor="end" >100</text>
<line x1="318.90000000000003" y1="283.12" x2="321.8" y2="283.12" stroke="#2e2e2e" stroke-width="1.2" />
<text x="316.0" y="285.72" font-size="8.6" text-anchor="end" >80</text>
<line x1="318.90000000000003" y1="304.24" x2="321.8" y2="304.24" stroke="#2e2e2e" stroke-width="1.2" />
<text x="316.0" y="306.84000000000003" font-size="8.6" text-anchor="end" >60</text>
<line x1="318.90000000000003" y1="325.36" x2="321.8" y2="325.36" stroke="#2e2e2e" stroke-width="1.2" />
<text x="316.0" y="327.96000000000004" font-size="8.6" text-anchor="end" >40</text>
<line x1="318.90000000000003" y1="346.48" x2="321.8" y2="346.48" stroke="#2e2e2e" stroke-width="1.2" />
<text x="316.0" y="349.08000000000004" font-size="8.6" text-anchor="end" >20</text>
<line x1="318.6" y1="367.6" x2="388.6" y2="367.6" stroke="#2e2e2e" stroke-width="1.6" />
<line x1="329.6" y1="367.6" x2="329.6" y2="370.6" stroke="#2e2e2e" stroke-width="1.3" />
<text x="329.6" y="381.20000000000005" font-size="8.6" text-anchor="middle" >1</text>
<line x1="346.1" y1="367.6" x2="346.1" y2="370.6" stroke="#2e2e2e" stroke-width="1.3" />
<text x="346.1" y="381.20000000000005" font-size="8.6" text-anchor="middle" >2</text>
<line x1="362.5" y1="367.6" x2="362.5" y2="370.6" stroke="#2e2e2e" stroke-width="1.3" />
<text x="362.5" y="381.20000000000005" font-size="8.6" text-anchor="middle" >3</text>
<line x1="378.8" y1="367.6" x2="378.8" y2="370.6" stroke="#2e2e2e" stroke-width="1.3" />
<text x="378.8" y="381.20000000000005" font-size="8.6" text-anchor="middle" >4</text>
<line x1="386.5" y1="367.6" x2="386.5" y2="370.6" stroke="#2e2e2e" stroke-width="1.3" />
<text x="316.0" y="370.20000000000005" font-size="8.6" text-anchor="end" >0</text>
<line x1="329.5" y1="302.3" x2="329.5" y2="296.2" stroke="#262626" stroke-width="1.1" />
<line x1="327.1" y1="296.2" x2="331.9" y2="296.2" stroke="#262626" stroke-width="1.5" />
<line x1="346.5" y1="295.7" x2="346.5" y2="289.7" stroke="#262626" stroke-width="1.1" />
<line x1="344.1" y1="289.7" x2="348.9" y2="289.7" stroke="#262626" stroke-width="1.5" />
<line x1="362.5" y1="291.1" x2="362.5" y2="284.6" stroke="#262626" stroke-width="1.1" />
<line x1="360.1" y1="284.6" x2="364.9" y2="284.6" stroke="#262626" stroke-width="1.5" />
<line x1="378.5" y1="289.3" x2="378.5" y2="286" stroke="#262626" stroke-width="1.1" />
<line x1="376.1" y1="286" x2="380.9" y2="286" stroke="#262626" stroke-width="1.5" />
<line x1="329.5" y1="286.4" x2="329.5" y2="275.1" stroke="#262626" stroke-width="1.1" />
<line x1="327.1" y1="275.1" x2="331.9" y2="275.1" stroke="#262626" stroke-width="1.5" />
<line x1="346.5" y1="282.4" x2="346.5" y2="272.5" stroke="#262626" stroke-width="1.1" />
<line x1="344.1" y1="272.5" x2="348.9" y2="272.5" stroke="#262626" stroke-width="1.5" />
<line x1="362.5" y1="282.4" x2="362.5" y2="269.4" stroke="#262626" stroke-width="1.1" />
<line x1="360.1" y1="269.4" x2="364.9" y2="269.4" stroke="#262626" stroke-width="1.5" />
<line x1="378.5" y1="285" x2="378.5" y2="272.4" stroke="#262626" stroke-width="1.1" />
<line x1="376.1" y1="272.4" x2="380.9" y2="272.4" stroke="#262626" stroke-width="1.5" />
<path d="M329.6,286.4 L346.1,282.4 L362.5,282.4 L378.8,285" fill="none" stroke="#bc163e" stroke-width="1.12"/>
<circle cx="329.6" cy="286.4" r="1.85" fill="#a8062e"/>
<circle cx="346.1" cy="282.4" r="1.85" fill="#a8062e"/>
<circle cx="362.5" cy="282.4" r="1.85" fill="#a8062e"/>
<circle cx="378.8" cy="285" r="1.85" fill="#a8062e"/>
<path d="M329.6,302.3 L346.1,295.7 L362.5,291.1 L378.8,289.3" fill="none" stroke="#2a4e96" stroke-width="1.12"/>
<circle cx="329.6" cy="302.3" r="1.85" fill="#1e3f82"/>
<circle cx="346.1" cy="295.7" r="1.85" fill="#1e3f82"/>
<circle cx="362.5" cy="291.1" r="1.85" fill="#1e3f82"/>
<circle cx="378.8" cy="289.3" r="1.85" fill="#1e3f82"/>
<rect x="328.68" y="269.95" width="1.85" height="1.7" fill="#383838"/>
<rect x="345.18" y="267.75" width="1.85" height="1.7" fill="#383838"/>
<line x1="64.2" y1="348.6" x2="76.2" y2="348.6" stroke="#bc163e" stroke-width="1.0" />
<circle cx="70.2" cy="348.6" r="1.5" fill="#a8062e"/>
<text x="79.6" y="351.0" font-size="8.2" textLength="12.2" lengthAdjust="spacingAndGlyphs" stroke="#1a1a1a" stroke-width="0.15">WT</text>
<line x1="64.2" y1="360.4" x2="76.2" y2="360.4" stroke="#2a4e96" stroke-width="1.0" />
<circle cx="70.2" cy="360.4" r="1.5" fill="#1e3f82"/>
<text x="79.6" y="362.79999999999995" font-size="8.2" textLength="22.5" lengthAdjust="spacingAndGlyphs" font-style="italic" stroke="#1a1a1a" stroke-width="0.15">Cebpb</text>
<text x="103.0" y="358.79999999999995" font-size="4.8" textLength="5.0" lengthAdjust="spacingAndGlyphs" >-/-</text>
<line x1="42" y1="459.8" x2="42" y2="566.4" stroke="#2e2e2e" stroke-width="1.6" />
<line x1="39.1" y1="462.8" x2="42" y2="462.8" stroke="#2e2e2e" stroke-width="1.2" />
<text x="36.2" y="465.40000000000003" font-size="8.6" text-anchor="end" >80</text>
<line x1="39.1" y1="488.5" x2="42" y2="488.5" stroke="#2e2e2e" stroke-width="1.2" />
<text x="36.2" y="491.1" font-size="8.6" text-anchor="end" >60</text>
<line x1="39.1" y1="514.2" x2="42" y2="514.2" stroke="#2e2e2e" stroke-width="1.2" />
<text x="36.2" y="516.8000000000001" font-size="8.6" text-anchor="end" >40</text>
<line x1="39.1" y1="539.9" x2="42" y2="539.9" stroke="#2e2e2e" stroke-width="1.2" />
<text x="36.2" y="542.5" font-size="8.6" text-anchor="end" >20</text>
<line x1="38.8" y1="565.6" x2="107.3" y2="565.6" stroke="#2e2e2e" stroke-width="1.6" />
<line x1="48" y1="565.6" x2="48" y2="568.6" stroke="#2e2e2e" stroke-width="1.3" />
<text x="48" y="579.2" font-size="8.6" text-anchor="middle" >1</text>
<line x1="60.7" y1="565.6" x2="60.7" y2="568.6" stroke="#2e2e2e" stroke-width="1.3" />
<text x="60.7" y="579.2" font-size="8.6" text-anchor="middle" >2</text>
<line x1="73.2" y1="565.6" x2="73.2" y2="568.6" stroke="#2e2e2e" stroke-width="1.3" />
<text x="73.2" y="579.2" font-size="8.6" text-anchor="middle" >3</text>
<line x1="85.6" y1="565.6" x2="85.6" y2="568.6" stroke="#2e2e2e" stroke-width="1.3" />
<text x="85.6" y="579.2" font-size="8.6" text-anchor="middle" >4</text>
<line x1="98.1" y1="565.6" x2="98.1" y2="568.6" stroke="#2e2e2e" stroke-width="1.3" />
<text x="98.1" y="579.2" font-size="8.6" text-anchor="middle" >5</text>
<line x1="105" y1="565.6" x2="105" y2="568.6" stroke="#2e2e2e" stroke-width="1.3" />
<text x="36.2" y="568.2" font-size="8.6" text-anchor="end" >0</text>
<line x1="48.5" y1="521.6" x2="48.5" y2="511.3" stroke="#262626" stroke-width="1.1" />
<line x1="46.1" y1="511.3" x2="50.9" y2="511.3" stroke="#262626" stroke-width="1.5" />
<line x1="60.5" y1="526" x2="60.5" y2="515.6" stroke="#262626" stroke-width="1.1" />
<line x1="58.1" y1="515.6" x2="62.9" y2="515.6" stroke="#262626" stroke-width="1.5" />
<line x1="73.5" y1="523.9" x2="73.5" y2="511.7" stroke="#262626" stroke-width="1.1" />
<line x1="71.1" y1="511.7" x2="75.9" y2="511.7" stroke="#262626" stroke-width="1.5" />
<line x1="85.5" y1="513.8" x2="85.5" y2="499.7" stroke="#262626" stroke-width="1.1" />
<line x1="83.1" y1="499.7" x2="87.9" y2="499.7" stroke="#262626" stroke-width="1.5" />
<line x1="98.5" y1="495.7" x2="98.5" y2="474.4" stroke="#262626" stroke-width="1.1" />
<line x1="96.1" y1="474.4" x2="100.9" y2="474.4" stroke="#262626" stroke-width="1.5" />
<line x1="48.5" y1="496.2" x2="48.5" y2="480.8" stroke="#262626" stroke-width="1.1" />
<line x1="46.1" y1="480.8" x2="50.9" y2="480.8" stroke="#262626" stroke-width="1.5" />
<line x1="60.5" y1="497.7" x2="60.5" y2="483.4" stroke="#262626" stroke-width="1.1" />
<line x1="58.1" y1="483.4" x2="62.9" y2="483.4" stroke="#262626" stroke-width="1.5" />
<line x1="73.5" y1="496.5" x2="73.5" y2="482.0" stroke="#262626" stroke-width="1.1" />
<line x1="71.1" y1="482.0" x2="75.9" y2="482.0" stroke="#262626" stroke-width="1.5" />
<line x1="85.5" y1="506.6" x2="85.5" y2="493.4" stroke="#262626" stroke-width="1.1" />
<line x1="83.1" y1="493.4" x2="87.9" y2="493.4" stroke="#262626" stroke-width="1.5" />
<line x1="98.5" y1="508.7" x2="98.5" y2="495.3" stroke="#262626" stroke-width="1.1" />
<line x1="96.1" y1="495.3" x2="100.9" y2="495.3" stroke="#262626" stroke-width="1.5" />
<path d="M48,496.2 L60.7,497.7 L73.2,496.5 L85.6,506.6 L98.1,508.7" fill="none" stroke="#bc163e" stroke-width="1.12"/>
<circle cx="48" cy="496.2" r="1.85" fill="#a8062e"/>
<circle cx="60.7" cy="497.7" r="1.85" fill="#a8062e"/>
<circle cx="73.2" cy="496.5" r="1.85" fill="#a8062e"/>
<circle cx="85.6" cy="506.6" r="1.85" fill="#a8062e"/>
<circle cx="98.1" cy="508.7" r="1.85" fill="#a8062e"/>
<path d="M48,521.6 L60.7,526 L73.2,523.9 L85.6,513.8 L98.1,495.7" fill="none" stroke="#2a4e96" stroke-width="1.12"/>
<circle cx="48" cy="521.6" r="1.85" fill="#1e3f82"/>
<circle cx="60.7" cy="526" r="1.85" fill="#1e3f82"/>
<circle cx="73.2" cy="523.9" r="1.85" fill="#1e3f82"/>
<circle cx="85.6" cy="513.8" r="1.85" fill="#1e3f82"/>
<circle cx="98.1" cy="495.7" r="1.85" fill="#1e3f82"/>
<rect x="44.38" y="475.75" width="1.85" height="1.7" fill="#383838"/>
<rect x="47.08" y="475.75" width="1.85" height="1.7" fill="#383838"/>
<rect x="49.78" y="475.75" width="1.85" height="1.7" fill="#383838"/>
<rect x="57.08" y="478.35" width="1.85" height="1.7" fill="#383838"/>
<rect x="59.78" y="478.35" width="1.85" height="1.7" fill="#383838"/>
<rect x="62.48" y="478.35" width="1.85" height="1.7" fill="#383838"/>
<rect x="70.93" y="476.65" width="1.85" height="1.7" fill="#383838"/>
<rect x="73.63" y="476.65" width="1.85" height="1.7" fill="#383838"/>
<line x1="137.7" y1="464.2" x2="137.7" y2="566.5999999999999" stroke="#2e2e2e" stroke-width="1.6" />
<line x1="134.79999999999998" y1="467.2" x2="137.7" y2="467.2" stroke="#2e2e2e" stroke-width="1.2" />
<text x="131.89999999999998" y="469.8" font-size="8.6" text-anchor="end" >100</text>
<line x1="134.79999999999998" y1="486.91999999999996" x2="137.7" y2="486.91999999999996" stroke="#2e2e2e" stroke-width="1.2" />
<text x="131.89999999999998" y="489.52" font-size="8.6" text-anchor="end" >80</text>
<line x1="134.79999999999998" y1="506.64" x2="137.7" y2="506.64" stroke="#2e2e2e" stroke-width="1.2" />
<text x="131.89999999999998" y="509.24" font-size="8.6" text-anchor="end" >60</text>
<line x1="134.79999999999998" y1="526.36" x2="137.7" y2="526.36" stroke="#2e2e2e" stroke-width="1.2" />
<text x="131.89999999999998" y="528.96" font-size="8.6" text-anchor="end" >40</text>
<line x1="134.79999999999998" y1="546.0799999999999" x2="137.7" y2="546.0799999999999" stroke="#2e2e2e" stroke-width="1.2" />
<text x="131.89999999999998" y="548.68" font-size="8.6" text-anchor="end" >20</text>
<line x1="134.5" y1="565.8" x2="201.5" y2="565.8" stroke="#2e2e2e" stroke-width="1.6" />
<line x1="144.1" y1="565.8" x2="144.1" y2="568.8" stroke="#2e2e2e" stroke-width="1.3" />
<text x="144.1" y="579.4" font-size="8.6" text-anchor="middle" >1</text>
<line x1="156" y1="565.8" x2="156" y2="568.8" stroke="#2e2e2e" stroke-width="1.3" />
<text x="156" y="579.4" font-size="8.6" text-anchor="middle" >2</text>
<line x1="168.3" y1="565.8" x2="168.3" y2="568.8" stroke="#2e2e2e" stroke-width="1.3" />
<text x="168.3" y="579.4" font-size="8.6" text-anchor="middle" >3</text>
<line x1="180.6" y1="565.8" x2="180.6" y2="568.8" stroke="#2e2e2e" stroke-width="1.3" />
<text x="180.6" y="579.4" font-size="8.6" text-anchor="middle" >4</text>
<line x1="192.7" y1="565.8" x2="192.7" y2="568.8" stroke="#2e2e2e" stroke-width="1.3" />
<text x="192.7" y="579.4" font-size="8.6" text-anchor="middle" >5</text>
<line x1="199.5" y1="565.8" x2="199.5" y2="568.8" stroke="#2e2e2e" stroke-width="1.3" />
<text x="131.89999999999998" y="568.4" font-size="8.6" text-anchor="end" >0</text>
<line x1="144.5" y1="537.5" x2="144.5" y2="527.1" stroke="#262626" stroke-width="1.1" />
<line x1="142.1" y1="527.1" x2="146.9" y2="527.1" stroke="#262626" stroke-width="1.5" />
<line x1="156.5" y1="537.8" x2="156.5" y2="524.5" stroke="#262626" stroke-width="1.1" />
<line x1="154.1" y1="524.5" x2="158.9" y2="524.5" stroke="#262626" stroke-width="1.5" />
<line x1="168.5" y1="524.9" x2="168.5" y2="508.4" stroke="#262626" stroke-width="1.1" />
<line x1="166.1" y1="508.4" x2="170.9" y2="508.4" stroke="#262626" stroke-width="1.5" />
<line x1="180.5" y1="509.2" x2="180.5" y2="491.4" stroke="#262626" stroke-width="1.1" />
<line x1="178.1" y1="491.4" x2="182.9" y2="491.4" stroke="#262626" stroke-width="1.5" />
<line x1="192.5" y1="489.3" x2="192.5" y2="466.3" stroke="#262626" stroke-width="1.1" />
<line x1="190.1" y1="466.3" x2="194.9" y2="466.3" stroke="#262626" stroke-width="1.5" />
<line x1="144.5" y1="505.2" x2="144.5" y2="489.7" stroke="#262626" stroke-width="1.1" />
<line x1="142.1" y1="489.7" x2="146.9" y2="489.7" stroke="#262626" stroke-width="1.5" />
<line x1="156.5" y1="514.4" x2="156.5" y2="499.7" stroke="#262626" stroke-width="1.1" />
<line x1="154.1" y1="499.7" x2="158.9" y2="499.7" stroke="#262626" stroke-width="1.5" />
<line x1="168.5" y1="514.1" x2="168.5" y2="499.7" stroke="#262626" stroke-width="1.1" />
<line x1="166.1" y1="499.7" x2="170.9" y2="499.7" stroke="#262626" stroke-width="1.5" />
<line x1="192.5" y1="519.3" x2="192.5" y2="503.2" stroke="#262626" stroke-width="1.1" />
<line x1="190.1" y1="503.2" x2="194.9" y2="503.2" stroke="#262626" stroke-width="1.5" />
<path d="M144.1,505.2 L156,514.4 L168.3,514.1 L180.6,521 L192.7,519.3" fill="none" stroke="#bc163e" stroke-width="1.12"/>
<circle cx="144.1" cy="505.2" r="1.85" fill="#a8062e"/>
<circle cx="156" cy="514.4" r="1.85" fill="#a8062e"/>
<circle cx="168.3" cy="514.1" r="1.85" fill="#a8062e"/>
<circle cx="180.6" cy="521" r="1.85" fill="#a8062e"/>
<circle cx="192.7" cy="519.3" r="1.85" fill="#a8062e"/>
<path d="M144.1,537.5 L156,537.8 L168.3,524.9 L180.6,509.2 L192.7,489.3" fill="none" stroke="#2a4e96" stroke-width="1.12"/>
<circle cx="144.1" cy="537.5" r="1.85" fill="#1e3f82"/>
<circle cx="156" cy="537.8" r="1.85" fill="#1e3f82"/>
<circle cx="168.3" cy="524.9" r="1.85" fill="#1e3f82"/>
<circle cx="180.6" cy="509.2" r="1.85" fill="#1e3f82"/>
<circle cx="192.7" cy="489.3" r="1.85" fill="#1e3f82"/>
<rect x="140.48" y="485.05" width="1.85" height="1.7" fill="#383838"/>
<rect x="143.18" y="485.05" width="1.85" height="1.7" fill="#383838"/>
<rect x="145.88" y="485.05" width="1.85" height="1.7" fill="#383838"/>
<rect x="153.73" y="494.85" width="1.85" height="1.7" fill="#383838"/>
<rect x="156.43" y="494.85" width="1.85" height="1.7" fill="#383838"/>
<rect x="191.78" y="461.15" width="1.85" height="1.7" fill="#383838"/>
<line x1="227.8" y1="458.6" x2="227.8" y2="566.8" stroke="#2e2e2e" stroke-width="1.6" />
<line x1="224.9" y1="461.6" x2="227.8" y2="461.6" stroke="#2e2e2e" stroke-width="1.2" />
<text x="222.0" y="464.20000000000005" font-size="8.6" text-anchor="end" >80</text>
<line x1="224.9" y1="487.70000000000005" x2="227.8" y2="487.70000000000005" stroke="#2e2e2e" stroke-width="1.2" />
<text x="222.0" y="490.30000000000007" font-size="8.6" text-anchor="end" >60</text>
<line x1="224.9" y1="513.8" x2="227.8" y2="513.8" stroke="#2e2e2e" stroke-width="1.2" />
<text x="222.0" y="516.4" font-size="8.6" text-anchor="end" >40</text>
<line x1="224.9" y1="539.9" x2="227.8" y2="539.9" stroke="#2e2e2e" stroke-width="1.2" />
<text x="222.0" y="542.5" font-size="8.6" text-anchor="end" >20</text>
<line x1="224.60000000000002" y1="566" x2="293" y2="566" stroke="#2e2e2e" stroke-width="1.6" />
<line x1="234.6" y1="566" x2="234.6" y2="569" stroke="#2e2e2e" stroke-width="1.3" />
<text x="234.6" y="579.6" font-size="8.6" text-anchor="middle" >1</text>
<line x1="247.1" y1="566" x2="247.1" y2="569" stroke="#2e2e2e" stroke-width="1.3" />
<text x="247.1" y="579.6" font-size="8.6" text-anchor="middle" >2</text>
<line x1="259.4" y1="566" x2="259.4" y2="569" stroke="#2e2e2e" stroke-width="1.3" />
<text x="259.4" y="579.6" font-size="8.6" text-anchor="middle" >3</text>
<line x1="271.7" y1="566" x2="271.7" y2="569" stroke="#2e2e2e" stroke-width="1.3" />
<text x="271.7" y="579.6" font-size="8.6" text-anchor="middle" >4</text>
<line x1="284" y1="566" x2="284" y2="569" stroke="#2e2e2e" stroke-width="1.3" />
<text x="284" y="579.6" font-size="8.6" text-anchor="middle" >5</text>
<line x1="291" y1="566" x2="291" y2="569" stroke="#2e2e2e" stroke-width="1.3" />
<text x="222.0" y="568.6" font-size="8.6" text-anchor="end" >0</text>
<line x1="234.5" y1="536.1" x2="234.5" y2="526.6" stroke="#262626" stroke-width="1.1" />
<line x1="232.1" y1="526.6" x2="236.9" y2="526.6" stroke="#262626" stroke-width="1.5" />
<line x1="247.5" y1="550" x2="247.5" y2="539.7" stroke="#262626" stroke-width="1.1" />
<line x1="245.1" y1="539.7" x2="249.9" y2="539.7" stroke="#262626" stroke-width="1.5" />
<line x1="259.5" y1="547.5" x2="259.5" y2="540.6" stroke="#262626" stroke-width="1.1" />
<line x1="257.1" y1="540.6" x2="261.9" y2="540.6" stroke="#262626" stroke-width="1.5" />
<line x1="271.5" y1="537.8" x2="271.5" y2="525" stroke="#262626" stroke-width="1.1" />
<line x1="269.1" y1="525" x2="273.9" y2="525" stroke="#262626" stroke-width="1.5" />
<line x1="284.5" y1="503.7" x2="284.5" y2="480.7" stroke="#262626" stroke-width="1.1" />
<line x1="282.1" y1="480.7" x2="286.9" y2="480.7" stroke="#262626" stroke-width="1.5" />
<line x1="234.5" y1="495.4" x2="234.5" y2="476.9" stroke="#262626" stroke-width="1.1" />
<line x1="232.1" y1="476.9" x2="236.9" y2="476.9" stroke="#262626" stroke-width="1.5" />
<line x1="247.5" y1="511.8" x2="247.5" y2="493.3" stroke="#262626" stroke-width="1.1" />
<line x1="245.1" y1="493.3" x2="249.9" y2="493.3" stroke="#262626" stroke-width="1.5" />
<line x1="259.5" y1="514.8" x2="259.5" y2="493.7" stroke="#262626" stroke-width="1.1" />
<line x1="257.1" y1="493.7" x2="261.9" y2="493.7" stroke="#262626" stroke-width="1.5" />
<line x1="271.5" y1="518.4" x2="271.5" y2="500.6" stroke="#262626" stroke-width="1.1" />
<line x1="269.1" y1="500.6" x2="273.9" y2="500.6" stroke="#262626" stroke-width="1.5" />
<line x1="284.5" y1="514.4" x2="284.5" y2="495.4" stroke="#262626" stroke-width="1.1" />
<line x1="282.1" y1="495.4" x2="286.9" y2="495.4" stroke="#262626" stroke-width="1.5" />
<path d="M234.6,495.4 L247.1,511.8 L259.4,514.8 L271.7,518.4 L284,514.4" fill="none" stroke="#bc163e" stroke-width="1.12"/>
<circle cx="234.6" cy="495.4" r="1.85" fill="#a8062e"/>
<circle cx="247.1" cy="511.8" r="1.85" fill="#a8062e"/>
<circle cx="259.4" cy="514.8" r="1.85" fill="#a8062e"/>
<circle cx="271.7" cy="518.4" r="1.85" fill="#a8062e"/>
<circle cx="284" cy="514.4" r="1.85" fill="#a8062e"/>
<path d="M234.6,536.1 L247.1,550 L259.4,547.5 L271.7,537.8 L284,503.7" fill="none" stroke="#2a4e96" stroke-width="1.12"/>
<circle cx="234.6" cy="536.1" r="1.85" fill="#1e3f82"/>
<circle cx="247.1" cy="550" r="1.85" fill="#1e3f82"/>
<circle cx="259.4" cy="547.5" r="1.85" fill="#1e3f82"/>
<circle cx="271.7" cy="537.8" r="1.85" fill="#1e3f82"/>
<circle cx="284" cy="503.7" r="1.85" fill="#1e3f82"/>
<rect x="230.98" y="472.05" width="1.85" height="1.7" fill="#383838"/>
<rect x="233.68" y="472.05" width="1.85" height="1.7" fill="#383838"/>
<rect x="236.38" y="472.05" width="1.85" height="1.7" fill="#383838"/>
<rect x="243.48" y="488.15" width="1.85" height="1.7" fill="#383838"/>
<rect x="246.18" y="488.15" width="1.85" height="1.7" fill="#383838"/>
<rect x="248.88" y="488.15" width="1.85" height="1.7" fill="#383838"/>
<rect x="257.13" y="488.85" width="1.85" height="1.7" fill="#383838"/>
<rect x="259.83" y="488.85" width="1.85" height="1.7" fill="#383838"/>
<rect x="270.78" y="495.05" width="1.85" height="1.7" fill="#383838"/>
<line x1="321.5" y1="460" x2="321.5" y2="566.4" stroke="#2e2e2e" stroke-width="1.6" />
<line x1="318.6" y1="463.0" x2="321.5" y2="463.0" stroke="#2e2e2e" stroke-width="1.2" />
<text x="315.7" y="465.6" font-size="8.6" text-anchor="end" >80</text>
<line x1="318.6" y1="488.65" x2="321.5" y2="488.65" stroke="#2e2e2e" stroke-width="1.2" />
<text x="315.7" y="491.25" font-size="8.6" text-anchor="end" >60</text>
<line x1="318.6" y1="514.3" x2="321.5" y2="514.3" stroke="#2e2e2e" stroke-width="1.2" />
<text x="315.7" y="516.9" font-size="8.6" text-anchor="end" >40</text>
<line x1="318.6" y1="539.95" x2="321.5" y2="539.95" stroke="#2e2e2e" stroke-width="1.2" />
<text x="315.7" y="542.5500000000001" font-size="8.6" text-anchor="end" >20</text>
<line x1="318.3" y1="565.6" x2="385.9" y2="565.6" stroke="#2e2e2e" stroke-width="1.6" />
<line x1="327.4" y1="565.6" x2="327.4" y2="568.6" stroke="#2e2e2e" stroke-width="1.3" />
<text x="327.4" y="579.2" font-size="8.6" text-anchor="middle" >1</text>
<line x1="339.9" y1="565.6" x2="339.9" y2="568.6" stroke="#2e2e2e" stroke-width="1.3" />
<text x="339.9" y="579.2" font-size="8.6" text-anchor="middle" >2</text>
<line x1="352.3" y1="565.6" x2="352.3" y2="568.6" stroke="#2e2e2e" stroke-width="1.3" />
<text x="352.3" y="579.2" font-size="8.6" text-anchor="middle" >3</text>
<line x1="364.7" y1="565.6" x2="364.7" y2="568.6" stroke="#2e2e2e" stroke-width="1.3" />
<text x="364.7" y="579.2" font-size="8.6" text-anchor="middle" >4</text>
<line x1="376.9" y1="565.6" x2="376.9" y2="568.6" stroke="#2e2e2e" stroke-width="1.3" />
<text x="376.9" y="579.2" font-size="8.6" text-anchor="middle" >5</text>
<line x1="383.2" y1="565.6" x2="383.2" y2="568.6" stroke="#2e2e2e" stroke-width="1.3" />
<text x="315.7" y="568.2" font-size="8.6" text-anchor="end" >0</text>
<line x1="327.5" y1="514.4" x2="327.5" y2="503.5" stroke="#262626" stroke-width="1.1" />
<line x1="325.1" y1="503.5" x2="329.9" y2="503.5" stroke="#262626" stroke-width="1.5" />
<line x1="339.5" y1="520.5" x2="339.5" y2="509.6" stroke="#262626" stroke-width="1.1" />
<line x1="337.1" y1="509.6" x2="341.9" y2="509.6" stroke="#262626" stroke-width="1.5" />
<line x1="352.5" y1="517.4" x2="352.5" y2="505.8" stroke="#262626" stroke-width="1.1" />
<line x1="350.1" y1="505.8" x2="354.9" y2="505.8" stroke="#262626" stroke-width="1.5" />
<line x1="364.5" y1="515.6" x2="364.5" y2="504.4" stroke="#262626" stroke-width="1.1" />
<line x1="362.1" y1="504.4" x2="366.9" y2="504.4" stroke="#262626" stroke-width="1.5" />
<line x1="376.5" y1="507.5" x2="376.5" y2="498.5" stroke="#262626" stroke-width="1.1" />
<line x1="374.1" y1="498.5" x2="378.9" y2="498.5" stroke="#262626" stroke-width="1.5" />
<line x1="327.5" y1="493.7" x2="327.5" y2="479.3" stroke="#262626" stroke-width="1.1" />
<line x1="325.1" y1="479.3" x2="329.9" y2="479.3" stroke="#262626" stroke-width="1.5" />
<line x1="339.5" y1="493.7" x2="339.5" y2="479.5" stroke="#262626" stroke-width="1.1" />
<line x1="337.1" y1="479.5" x2="341.9" y2="479.5" stroke="#262626" stroke-width="1.5" />
<line x1="352.5" y1="493.3" x2="352.5" y2="482.4" stroke="#262626" stroke-width="1.1" />
<line x1="350.1" y1="482.4" x2="354.9" y2="482.4" stroke="#262626" stroke-width="1.5" />
<line x1="364.5" y1="503.2" x2="364.5" y2="490.7" stroke="#262626" stroke-width="1.1" />
<line x1="362.1" y1="490.7" x2="366.9" y2="490.7" stroke="#262626" stroke-width="1.5" />
<line x1="376.5" y1="507.2" x2="376.5" y2="494.5" stroke="#262626" stroke-width="1.1" />
<line x1="374.1" y1="494.5" x2="378.9" y2="494.5" stroke="#262626" stroke-width="1.5" />
<path d="M327.4,493.7 L339.9,493.7 L352.3,493.3 L364.7,503.2 L376.9,507.2" fill="none" stroke="#bc163e" stroke-width="1.12"/>
<circle cx="327.4" cy="493.7" r="1.85" fill="#a8062e"/>
<circle cx="339.9" cy="493.7" r="1.85" fill="#a8062e"/>
<circle cx="352.3" cy="493.3" r="1.85" fill="#a8062e"/>
<circle cx="364.7" cy="503.2" r="1.85" fill="#a8062e"/>
<circle cx="376.9" cy="507.2" r="1.85" fill="#a8062e"/>
<path d="M327.4,514.4 L339.9,520.5 L352.3,517.4 L364.7,515.6 L376.9,507.5" fill="none" stroke="#2a4e96" stroke-width="1.12"/>
<circle cx="327.4" cy="514.4" r="1.85" fill="#1e3f82"/>
<circle cx="339.9" cy="520.5" r="1.85" fill="#1e3f82"/>
<circle cx="352.3" cy="517.4" r="1.85" fill="#1e3f82"/>
<circle cx="364.7" cy="515.6" r="1.85" fill="#1e3f82"/>
<circle cx="376.9" cy="507.5" r="1.85" fill="#1e3f82"/>
<rect x="323.78" y="474.25" width="1.85" height="1.7" fill="#383838"/>
<rect x="326.48" y="474.25" width="1.85" height="1.7" fill="#383838"/>
<rect x="329.18" y="474.25" width="1.85" height="1.7" fill="#383838"/>
<rect x="337.63" y="474.65" width="1.85" height="1.7" fill="#383838"/>
<rect x="340.33" y="474.65" width="1.85" height="1.7" fill="#383838"/>
<rect x="350.03" y="477.55" width="1.85" height="1.7" fill="#383838"/>
<rect x="352.73" y="477.55" width="1.85" height="1.7" fill="#383838"/>
<line x1="64.2" y1="546.8" x2="76.2" y2="546.8" stroke="#bc163e" stroke-width="1.0" />
<circle cx="70.2" cy="546.8" r="1.5" fill="#a8062e"/>
<text x="79.6" y="549.2" font-size="8.2" textLength="12.2" lengthAdjust="spacingAndGlyphs" stroke="#1a1a1a" stroke-width="0.15">WT</text>
<line x1="64.2" y1="558.5" x2="76.2" y2="558.5" stroke="#2a4e96" stroke-width="1.0" />
<circle cx="70.2" cy="558.5" r="1.5" fill="#1e3f82"/>
<text x="79.6" y="560.9" font-size="8.2" textLength="22.5" lengthAdjust="spacingAndGlyphs" font-style="italic" stroke="#1a1a1a" stroke-width="0.15">Cebpb</text>
<text x="103.0" y="556.9" font-size="4.8" textLength="5.0" lengthAdjust="spacingAndGlyphs" >-/-</text>
<line x1="440.3" y1="56" x2="440.3" y2="165.60000000000002" stroke="#2e2e2e" stroke-width="1.6" />
<line x1="437.40000000000003" y1="59.0" x2="440.3" y2="59.0" stroke="#2e2e2e" stroke-width="1.2" />
<text x="433.7" y="61.6" font-size="8.6" text-anchor="end" >100</text>
<line x1="437.40000000000003" y1="80.16" x2="440.3" y2="80.16" stroke="#2e2e2e" stroke-width="1.2" />
<text x="433.7" y="82.75999999999999" font-size="8.6" text-anchor="end" >80</text>
<line x1="437.40000000000003" y1="101.32000000000001" x2="440.3" y2="101.32000000000001" stroke="#2e2e2e" stroke-width="1.2" />
<text x="433.7" y="103.92" font-size="8.6" text-anchor="end" >60</text>
<line x1="437.40000000000003" y1="122.48000000000002" x2="440.3" y2="122.48000000000002" stroke="#2e2e2e" stroke-width="1.2" />
<text x="433.7" y="125.08000000000001" font-size="8.6" text-anchor="end" >40</text>
<line x1="437.40000000000003" y1="143.64000000000001" x2="440.3" y2="143.64000000000001" stroke="#2e2e2e" stroke-width="1.2" />
<text x="433.7" y="146.24" font-size="8.6" text-anchor="end" >20</text>
<text x="433.7" y="167.4" font-size="8.6" text-anchor="end" >0</text>
<line x1="452.54999999999995" y1="73.3" x2="452.54999999999995" y2="67.8" stroke="#262626" stroke-width="1.0" />
<line x1="450.34999999999997" y1="67.8" x2="454.74999999999994" y2="67.8" stroke="#262626" stroke-width="1.3" />
<rect x="447.9" y="73.3" width="9.300000000000011" height="91.50000000000001" fill="#a50029"/>
<line x1="461.9" y1="82.2" x2="461.9" y2="73.3" stroke="#262626" stroke-width="1.0" />
<line x1="459.7" y1="73.3" x2="464.09999999999997" y2="73.3" stroke="#262626" stroke-width="1.3" />
<rect x="457.5" y="82.5" width="8.800000000000034" height="82.30000000000001" fill="#2e4b7e" stroke="#1c3563" stroke-width="0.6"/>
<line x1="486.15" y1="70.9" x2="486.15" y2="65.4" stroke="#262626" stroke-width="1.0" />
<line x1="483.95" y1="65.4" x2="488.34999999999997" y2="65.4" stroke="#262626" stroke-width="1.3" />
<rect x="481.5" y="70.9" width="9.300000000000011" height="93.9" fill="#a50029"/>
<line x1="495.6" y1="78.8" x2="495.6" y2="72.1" stroke="#262626" stroke-width="1.0" />
<line x1="493.40000000000003" y1="72.1" x2="497.8" y2="72.1" stroke="#262626" stroke-width="1.3" />
<rect x="491.1" y="79.1" width="8.999999999999966" height="85.70000000000002" fill="#2e4b7e" stroke="#1c3563" stroke-width="0.6"/>
<line x1="437.1" y1="164.8" x2="511" y2="164.8" stroke="#2e2e2e" stroke-width="1.6" />
<line x1="474.3" y1="164.8" x2="474.3" y2="167.8" stroke="#2e2e2e" stroke-width="1.3" />
<line x1="508.2" y1="164.8" x2="508.2" y2="167.8" stroke="#2e2e2e" stroke-width="1.3" />
<line x1="440.5" y1="260.5" x2="440.5" y2="368.8" stroke="#2e2e2e" stroke-width="1.6" />
<line x1="437.6" y1="263.5" x2="440.5" y2="263.5" stroke="#2e2e2e" stroke-width="1.2" />
<text x="433.9" y="266.1" font-size="8.6" text-anchor="end" >100</text>
<line x1="437.6" y1="284.4" x2="440.5" y2="284.4" stroke="#2e2e2e" stroke-width="1.2" />
<text x="433.9" y="287.0" font-size="8.6" text-anchor="end" >80</text>
<line x1="437.6" y1="305.3" x2="440.5" y2="305.3" stroke="#2e2e2e" stroke-width="1.2" />
<text x="433.9" y="307.90000000000003" font-size="8.6" text-anchor="end" >60</text>
<line x1="437.6" y1="326.2" x2="440.5" y2="326.2" stroke="#2e2e2e" stroke-width="1.2" />
<text x="433.9" y="328.8" font-size="8.6" text-anchor="end" >40</text>
<line x1="437.6" y1="347.1" x2="440.5" y2="347.1" stroke="#2e2e2e" stroke-width="1.2" />
<text x="433.9" y="349.70000000000005" font-size="8.6" text-anchor="end" >20</text>
<text x="433.9" y="370.6" font-size="8.6" text-anchor="end" >0</text>
<line x1="452.95" y1="304.1" x2="452.95" y2="276.4" stroke="#262626" stroke-width="1.0" />
<line x1="450.75" y1="276.4" x2="455.15" y2="276.4" stroke="#262626" stroke-width="1.3" />
<rect x="447.9" y="304.1" width="10.100000000000023" height="63.89999999999998" fill="#a50029"/>
<line x1="462.8" y1="288" x2="462.8" y2="267.3" stroke="#262626" stroke-width="1.0" />
<line x1="460.6" y1="267.3" x2="465.0" y2="267.3" stroke="#262626" stroke-width="1.3" />
<rect x="458.3" y="288.3" width="9.000000000000023" height="79.7" fill="#2e4b7e" stroke="#1c3563" stroke-width="0.6"/>
<line x1="487.2" y1="293.3" x2="487.2" y2="270.2" stroke="#262626" stroke-width="1.0" />
<line x1="485.0" y1="270.2" x2="489.4" y2="270.2" stroke="#262626" stroke-width="1.3" />
<rect x="482" y="293.3" width="10.399999999999977" height="74.69999999999999" fill="#a50029"/>
<line x1="497.2" y1="277.4" x2="497.2" y2="269.7" stroke="#262626" stroke-width="1.0" />
<line x1="495.0" y1="269.7" x2="499.4" y2="269.7" stroke="#262626" stroke-width="1.3" />
<rect x="492.7" y="277.7" width="9.000000000000023" height="90.30000000000003" fill="#2e4b7e" stroke="#1c3563" stroke-width="0.6"/>
<line x1="437.3" y1="368" x2="512" y2="368" stroke="#2e2e2e" stroke-width="1.6" />
<line x1="475" y1="368" x2="475" y2="371" stroke="#2e2e2e" stroke-width="1.3" />
<line x1="509.9" y1="368" x2="509.9" y2="371" stroke="#2e2e2e" stroke-width="1.3" />
<line x1="440.5" y1="459.2" x2="440.5" y2="566.4" stroke="#2e2e2e" stroke-width="1.6" />
<line x1="437.6" y1="462.2" x2="440.5" y2="462.2" stroke="#2e2e2e" stroke-width="1.2" />
<text x="433.9" y="464.8" font-size="8.6" text-anchor="end" >100</text>
<line x1="437.6" y1="482.88" x2="440.5" y2="482.88" stroke="#2e2e2e" stroke-width="1.2" />
<text x="433.9" y="485.48" font-size="8.6" text-anchor="end" >80</text>
<line x1="437.6" y1="503.56" x2="440.5" y2="503.56" stroke="#2e2e2e" stroke-width="1.2" />
<text x="433.9" y="506.16" font-size="8.6" text-anchor="end" >60</text>
<line x1="437.6" y1="524.24" x2="440.5" y2="524.24" stroke="#2e2e2e" stroke-width="1.2" />
<text x="433.9" y="526.84" font-size="8.6" text-anchor="end" >40</text>
<line x1="437.6" y1="544.9200000000001" x2="440.5" y2="544.9200000000001" stroke="#2e2e2e" stroke-width="1.2" />
<text x="433.9" y="547.5200000000001" font-size="8.6" text-anchor="end" >20</text>
<text x="433.9" y="568.2" font-size="8.6" text-anchor="end" >0</text>
<line x1="452.75" y1="520" x2="452.75" y2="507.2" stroke="#262626" stroke-width="1.0" />
<line x1="450.55" y1="507.2" x2="454.95" y2="507.2" stroke="#262626" stroke-width="1.3" />
<rect x="447.9" y="520" width="9.700000000000045" height="45.60000000000002" fill="#a50029"/>
<line x1="462.35" y1="490.9" x2="462.35" y2="467.3" stroke="#262626" stroke-width="1.0" />
<line x1="460.15000000000003" y1="467.3" x2="464.55" y2="467.3" stroke="#262626" stroke-width="1.3" />
<rect x="457.90000000000003" y="491.2" width="8.9" height="74.40000000000005" fill="#2e4b7e" stroke="#1c3563" stroke-width="0.6"/>
<line x1="486.35" y1="530.5" x2="486.35" y2="516.4" stroke="#262626" stroke-width="1.0" />
<line x1="484.15000000000003" y1="516.4" x2="488.55" y2="516.4" stroke="#262626" stroke-width="1.3" />
<rect x="481.5" y="530.5" width="9.699999999999989" height="35.10000000000002" fill="#a50029"/>
<line x1="496.0" y1="493.3" x2="496.0" y2="469.7" stroke="#262626" stroke-width="1.0" />
<line x1="493.8" y1="469.7" x2="498.2" y2="469.7" stroke="#262626" stroke-width="1.3" />
<rect x="491.5" y="493.6" width="9.000000000000023" height="72.00000000000001" fill="#2e4b7e" stroke="#1c3563" stroke-width="0.6"/>
<line x1="437.3" y1="565.6" x2="511.5" y2="565.6" stroke="#2e2e2e" stroke-width="1.6" />
<line x1="474.6" y1="565.6" x2="474.6" y2="568.6" stroke="#2e2e2e" stroke-width="1.3" />
<line x1="509.5" y1="565.6" x2="509.5" y2="568.6" stroke="#2e2e2e" stroke-width="1.3" />
<rect x="461.48" y="462.15" width="1.85" height="1.7" fill="#383838"/>
<rect x="495.08" y="464.05" width="1.85" height="1.7" fill="#383838"/>
<rect x="470.7" y="34.2" width="9.4" height="6" fill="#a50029"/>
<text x="483.2" y="39.7" font-size="8.2" textLength="12.2" lengthAdjust="spacingAndGlyphs" stroke="#1a1a1a" stroke-width="0.15">WT</text>
<rect x="470.7" y="46.1" width="9.4" height="6" fill="#2e4b7e"/>
<text x="483.2" y="51.800000000000004" font-size="8.2" textLength="22.5" lengthAdjust="spacingAndGlyphs" font-style="italic" stroke="#1a1a1a" stroke-width="0.15">Cebpb</text>
<text x="506.59999999999997" y="47.9" font-size="4.8" textLength="5.0" lengthAdjust="spacingAndGlyphs" >-/-</text>
<rect x="471.9" y="238.6" width="9.4" height="6" fill="#a50029"/>
<text x="484.7" y="244.1" font-size="8.2" textLength="12.2" lengthAdjust="spacingAndGlyphs" stroke="#1a1a1a" stroke-width="0.15">WT</text>
<rect x="471.9" y="250.3" width="9.4" height="6" fill="#2e4b7e"/>
<text x="484.7" y="256.0" font-size="8.2" textLength="22.5" lengthAdjust="spacingAndGlyphs" font-style="italic" stroke="#1a1a1a" stroke-width="0.15">Cebpb</text>
<text x="508.09999999999997" y="252.10000000000002" font-size="4.8" textLength="5.0" lengthAdjust="spacingAndGlyphs" >-/-</text>
<rect x="470.7" y="437.0" width="9.4" height="6" fill="#a50029"/>
<text x="483.2" y="442.5" font-size="8.2" textLength="12.2" lengthAdjust="spacingAndGlyphs" stroke="#1a1a1a" stroke-width="0.15">WT</text>
<rect x="470.7" y="448.9" width="9.4" height="6" fill="#2e4b7e"/>
<text x="483.2" y="454.59999999999997" font-size="8.2" textLength="22.5" lengthAdjust="spacingAndGlyphs" font-style="italic" stroke="#1a1a1a" stroke-width="0.15">Cebpb</text>
<text x="506.59999999999997" y="450.7" font-size="4.8" textLength="5.0" lengthAdjust="spacingAndGlyphs" >-/-</text>
<text x="443.3" y="178.4" font-size="8.6" textLength="28.0" lengthAdjust="spacingAndGlyphs" >LT-HSC</text>
<text x="483.0" y="178.4" font-size="8.6" textLength="15.6" lengthAdjust="spacingAndGlyphs" >KSL</text>
<line x1="441.9" y1="183.4" x2="503.7" y2="183.4" stroke="#333" stroke-width="1.0" />
<text x="459.4" y="193.8" font-size="8.3" textLength="27.2" lengthAdjust="spacingAndGlyphs" >6M BM</text>
<text x="443.3" y="381.2" font-size="8.6" textLength="28.0" lengthAdjust="spacingAndGlyphs" >LT-HSC</text>
<text x="483.0" y="381.2" font-size="8.6" textLength="15.6" lengthAdjust="spacingAndGlyphs" >KSL</text>
<line x1="441.9" y1="386.5" x2="503.7" y2="386.5" stroke="#333" stroke-width="1.0" />
<text x="459.4" y="396.2" font-size="8.3" textLength="27.2" lengthAdjust="spacingAndGlyphs" >4M BM</text>
<text x="443.3" y="579.3" font-size="8.6" textLength="28.0" lengthAdjust="spacingAndGlyphs" >LT-HSC</text>
<text x="483.0" y="579.3" font-size="8.6" textLength="15.6" lengthAdjust="spacingAndGlyphs" >KSL</text>
<line x1="441.9" y1="584.5" x2="503.7" y2="584.5" stroke="#333" stroke-width="1.0" />
<text x="459.4" y="595" font-size="8.3" textLength="27.2" lengthAdjust="spacingAndGlyphs" >5M BM</text>
<rect x="0.5" y="0.5" width="519" height="603" fill="none" stroke="#000" stroke-width="1.2"/>
</svg></body></html>
